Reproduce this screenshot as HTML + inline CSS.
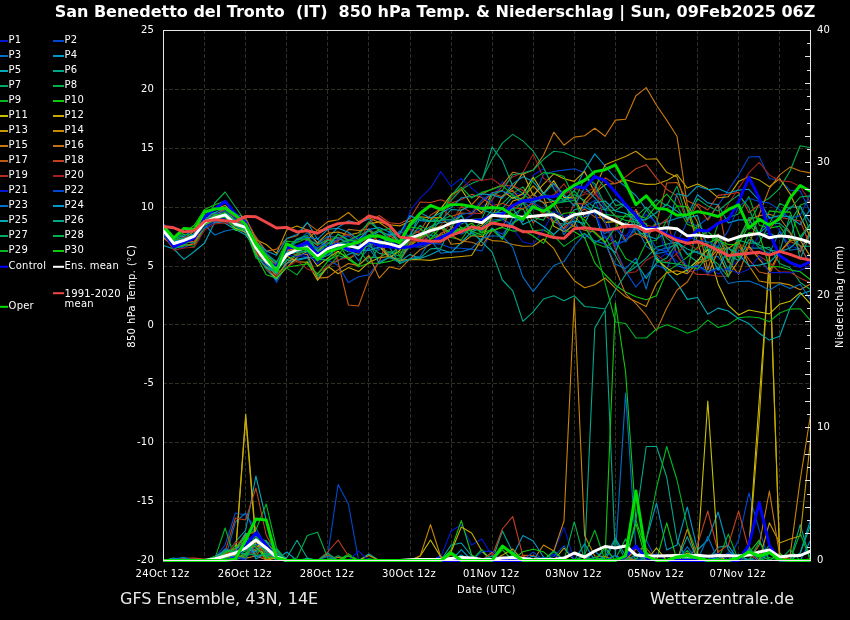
<!DOCTYPE html>
<html><head><meta charset="utf-8"><title>GFS Ensemble</title>
<style>html,body{margin:0;padding:0;background:#000;width:850px;height:620px;overflow:hidden}</style></head>
<body>
<svg width="850" height="620" viewBox="0 0 850 620" style="position:absolute;left:0;top:0">
<rect width="850" height="620" fill="#000"/>
<g stroke="#2e2e22" stroke-width="1" stroke-dasharray="4 2" fill="none" shape-rendering="crispEdges">
<path d="M204.6 30 V560"/>
<path d="M245.7 30 V560"/>
<path d="M286.7 30 V560"/>
<path d="M327.8 30 V560"/>
<path d="M368.9 30 V560"/>
<path d="M410.0 30 V560"/>
<path d="M451.1 30 V560"/>
<path d="M492.1 30 V560"/>
<path d="M533.2 30 V560"/>
<path d="M574.3 30 V560"/>
<path d="M615.4 30 V560"/>
<path d="M656.5 30 V560"/>
<path d="M697.5 30 V560"/>
<path d="M738.6 30 V560"/>
<path d="M779.7 30 V560"/>
<path d="M163 89.4 H810"/>
<path d="M163 148.3 H810"/>
<path d="M163 207.2 H810"/>
<path d="M163 266.1 H810"/>
<path d="M163 324.9 H810"/>
<path d="M163 383.8 H810"/>
<path d="M163 442.7 H810"/>
<path d="M163 501.6 H810"/>
</g>
<clipPath id="c"><rect x="163" y="30" width="648" height="532"/></clipPath>
<g clip-path="url(#c)" fill="none" stroke-linejoin="round">
<g stroke-width="1.1">
<path stroke="#0018d0" d="M163.5 560.5 L173.8 560.5 L184.0 560.5 L194.3 560.5 L204.6 560.5 L214.8 556.8 L225.1 557.3 L235.4 557.4 L245.7 560.0 L255.9 539.3 L266.2 558.4 L276.5 548.8 L286.7 560.5 L297.0 560.5 L307.3 560.5 L317.5 560.5 L327.8 560.5 L338.1 560.5 L348.4 560.5 L358.6 560.5 L368.9 560.5 L379.2 560.5 L389.4 560.5 L399.7 560.5 L410.0 560.5 L420.2 560.5 L430.5 560.5 L440.8 557.0 L451.1 531.0 L461.3 525.0 L471.6 545.0 L481.9 539.0 L492.1 556.0 L502.4 560.5 L512.7 559.8 L522.9 560.5 L533.2 560.5 L543.5 560.5 L553.8 551.6 L564.0 527.3 L574.3 560.5 L584.6 560.5 L594.8 560.5 L605.1 560.5 L615.4 560.5 L625.6 560.5 L635.9 556.3 L646.2 558.6 L656.5 553.7 L666.7 560.5 L677.0 560.5 L687.3 560.5 L697.5 560.5 L707.8 560.5 L718.1 559.9 L728.3 560.5 L738.6 560.5 L748.9 560.5 L759.2 560.5 L769.4 560.5 L779.7 560.5 L790.0 560.5 L800.2 560.5 L810.5 560.5"/>
<path stroke="#0048d0" d="M163.5 560.5 L173.8 560.5 L184.0 560.5 L194.3 560.5 L204.6 559.6 L214.8 557.5 L225.1 545.0 L235.4 513.0 L245.7 515.0 L255.9 528.0 L266.2 547.1 L276.5 558.9 L286.7 560.5 L297.0 560.5 L307.3 560.5 L317.5 560.5 L327.8 555.0 L338.1 484.6 L348.4 504.0 L358.6 560.5 L368.9 560.5 L379.2 560.5 L389.4 560.5 L399.7 560.5 L410.0 560.5 L420.2 560.5 L430.5 560.5 L440.8 555.9 L451.1 560.5 L461.3 560.5 L471.6 560.5 L481.9 560.5 L492.1 560.5 L502.4 560.5 L512.7 560.5 L522.9 560.5 L533.2 560.5 L543.5 560.5 L553.8 554.0 L564.0 560.5 L574.3 560.5 L584.6 560.5 L594.8 560.5 L605.1 549.7 L615.4 560.5 L625.6 560.5 L635.9 560.5 L646.2 539.9 L656.5 560.5 L666.7 560.5 L677.0 555.6 L687.3 560.5 L697.5 560.5 L707.8 560.5 L718.1 560.5 L728.3 560.5 L738.6 540.0 L748.9 493.0 L759.2 530.0 L769.4 560.5 L779.7 555.2 L790.0 560.5 L800.2 560.5 L810.5 560.5"/>
<path stroke="#0070c8" d="M163.5 560.5 L173.8 560.5 L184.0 560.5 L194.3 560.5 L204.6 560.5 L214.8 558.8 L225.1 559.1 L235.4 522.0 L245.7 513.0 L255.9 535.0 L266.2 557.2 L276.5 549.1 L286.7 560.5 L297.0 560.5 L307.3 560.5 L317.5 560.5 L327.8 560.5 L338.1 560.5 L348.4 560.5 L358.6 560.5 L368.9 560.5 L379.2 560.5 L389.4 560.5 L399.7 560.5 L410.0 560.5 L420.2 560.5 L430.5 560.5 L440.8 560.5 L451.1 560.5 L461.3 559.7 L471.6 560.5 L481.9 551.7 L492.1 560.5 L502.4 559.6 L512.7 560.5 L522.9 560.5 L533.2 560.5 L543.5 560.5 L553.8 560.5 L564.0 560.5 L574.3 560.5 L584.6 560.5 L594.8 560.5 L605.1 560.5 L615.4 555.0 L625.6 393.0 L635.9 548.0 L646.2 560.5 L656.5 560.5 L666.7 560.5 L677.0 560.5 L687.3 560.5 L697.5 560.5 L707.8 560.5 L718.1 555.3 L728.3 560.5 L738.6 560.5 L748.9 559.0 L759.2 560.5 L769.4 560.5 L779.7 560.5 L790.0 560.5 L800.2 560.5 L810.5 560.5"/>
<path stroke="#0098c8" d="M163.5 560.5 L173.8 560.5 L184.0 560.5 L194.3 560.5 L204.6 560.5 L214.8 560.1 L225.1 548.7 L235.4 552.8 L245.7 542.2 L255.9 544.6 L266.2 556.0 L276.5 559.7 L286.7 552.0 L297.0 560.5 L307.3 560.5 L317.5 560.5 L327.8 560.5 L338.1 560.5 L348.4 560.5 L358.6 560.5 L368.9 560.5 L379.2 560.5 L389.4 560.5 L399.7 560.5 L410.0 560.5 L420.2 560.5 L430.5 560.5 L440.8 560.5 L451.1 557.5 L461.3 560.5 L471.6 560.5 L481.9 560.5 L492.1 560.5 L502.4 560.5 L512.7 556.0 L522.9 535.5 L533.2 541.0 L543.5 557.0 L553.8 560.5 L564.0 560.5 L574.3 560.5 L584.6 543.9 L594.8 560.5 L605.1 557.0 L615.4 538.3 L625.6 555.8 L635.9 560.5 L646.2 540.0 L656.5 503.0 L666.7 550.0 L677.0 545.0 L687.3 507.0 L697.5 550.0 L707.8 540.0 L718.1 512.0 L728.3 550.0 L738.6 560.5 L748.9 560.5 L759.2 560.5 L769.4 553.0 L779.7 560.5 L790.0 560.5 L800.2 553.0 L810.5 520.0"/>
<path stroke="#00a8b8" d="M163.5 560.5 L173.8 558.0 L184.0 560.5 L194.3 558.7 L204.6 560.5 L214.8 560.2 L225.1 557.3 L235.4 542.0 L245.7 530.0 L255.9 476.0 L266.2 520.0 L276.5 555.1 L286.7 560.5 L297.0 560.5 L307.3 560.5 L317.5 560.5 L327.8 560.5 L338.1 560.5 L348.4 560.5 L358.6 560.5 L368.9 554.0 L379.2 560.5 L389.4 560.5 L399.7 560.5 L410.0 560.5 L420.2 560.5 L430.5 560.5 L440.8 560.5 L451.1 545.0 L461.3 543.0 L471.6 556.0 L481.9 560.5 L492.1 560.5 L502.4 560.5 L512.7 560.5 L522.9 560.5 L533.2 560.5 L543.5 560.5 L553.8 560.5 L564.0 560.5 L574.3 560.5 L584.6 560.5 L594.8 560.5 L605.1 560.5 L615.4 560.5 L625.6 560.5 L635.9 558.8 L646.2 560.5 L656.5 560.5 L666.7 560.5 L677.0 560.5 L687.3 560.5 L697.5 560.5 L707.8 560.1 L718.1 547.2 L728.3 545.6 L738.6 560.5 L748.9 560.5 L759.2 560.5 L769.4 560.5 L779.7 560.5 L790.0 560.5 L800.2 560.5 L810.5 560.5"/>
<path stroke="#00a888" d="M163.5 560.5 L173.8 560.5 L184.0 560.5 L194.3 560.5 L204.6 560.5 L214.8 556.6 L225.1 551.4 L235.4 559.9 L245.7 555.5 L255.9 548.9 L266.2 546.3 L276.5 553.7 L286.7 558.0 L297.0 540.3 L307.3 558.0 L317.5 560.5 L327.8 560.5 L338.1 560.5 L348.4 560.5 L358.6 560.5 L368.9 560.5 L379.2 560.5 L389.4 560.5 L399.7 560.5 L410.0 560.5 L420.2 560.5 L430.5 560.5 L440.8 560.5 L451.1 560.5 L461.3 560.5 L471.6 560.5 L481.9 560.5 L492.1 560.5 L502.4 531.0 L512.7 552.0 L522.9 560.5 L533.2 560.5 L543.5 560.5 L553.8 550.7 L564.0 560.5 L574.3 560.5 L584.6 556.0 L594.8 328.0 L605.1 310.0 L615.4 556.0 L625.6 560.5 L635.9 520.0 L646.2 446.5 L656.5 446.5 L666.7 477.0 L677.0 540.0 L687.3 560.5 L697.5 560.5 L707.8 560.5 L718.1 560.5 L728.3 560.5 L738.6 560.5 L748.9 560.5 L759.2 554.4 L769.4 560.5 L779.7 560.5 L790.0 560.5 L800.2 524.6 L810.5 560.5"/>
<path stroke="#00a860" d="M163.5 560.5 L173.8 560.5 L184.0 560.5 L194.3 560.5 L204.6 560.5 L214.8 557.7 L225.1 557.4 L235.4 555.8 L245.7 550.2 L255.9 545.8 L266.2 547.0 L276.5 559.6 L286.7 560.5 L297.0 560.5 L307.3 560.5 L317.5 560.5 L327.8 560.5 L338.1 555.7 L348.4 560.5 L358.6 560.5 L368.9 560.5 L379.2 560.5 L389.4 560.5 L399.7 560.5 L410.0 560.5 L420.2 560.5 L430.5 560.5 L440.8 560.5 L451.1 560.5 L461.3 560.5 L471.6 560.5 L481.9 560.5 L492.1 560.5 L502.4 560.5 L512.7 560.5 L522.9 560.5 L533.2 560.5 L543.5 560.5 L553.8 560.5 L564.0 560.5 L574.3 560.5 L584.6 560.5 L594.8 557.4 L605.1 560.5 L615.4 540.1 L625.6 560.5 L635.9 560.5 L646.2 560.5 L656.5 560.5 L666.7 560.5 L677.0 560.5 L687.3 560.5 L697.5 560.5 L707.8 560.5 L718.1 560.5 L728.3 560.5 L738.6 560.5 L748.9 560.5 L759.2 560.5 L769.4 544.8 L779.7 560.5 L790.0 560.5 L800.2 560.5 L810.5 560.5"/>
<path stroke="#00b048" d="M163.5 560.5 L173.8 560.5 L184.0 560.5 L194.3 560.5 L204.6 560.5 L214.8 556.6 L225.1 558.1 L235.4 545.2 L245.7 552.1 L255.9 553.3 L266.2 544.1 L276.5 553.3 L286.7 560.5 L297.0 558.0 L307.3 535.5 L317.5 532.3 L327.8 558.0 L338.1 560.5 L348.4 560.5 L358.6 560.5 L368.9 558.8 L379.2 560.5 L389.4 560.5 L399.7 560.5 L410.0 560.5 L420.2 560.5 L430.5 560.5 L440.8 560.5 L451.1 557.7 L461.3 560.5 L471.6 560.5 L481.9 560.5 L492.1 559.1 L502.4 560.5 L512.7 560.5 L522.9 560.5 L533.2 560.5 L543.5 560.5 L553.8 560.5 L564.0 560.5 L574.3 560.5 L584.6 560.5 L594.8 559.3 L605.1 560.5 L615.4 559.2 L625.6 538.8 L635.9 560.5 L646.2 560.5 L656.5 560.5 L666.7 560.5 L677.0 560.5 L687.3 554.3 L697.5 560.5 L707.8 560.5 L718.1 560.5 L728.3 560.5 L738.6 560.5 L748.9 552.3 L759.2 560.5 L769.4 560.5 L779.7 560.5 L790.0 560.5 L800.2 560.5 L810.5 560.5"/>
<path stroke="#00b820" d="M163.5 560.5 L173.8 560.5 L184.0 558.1 L194.3 560.4 L204.6 560.5 L214.8 558.6 L225.1 528.0 L235.4 560.2 L245.7 534.4 L255.9 530.0 L266.2 504.0 L276.5 548.0 L286.7 560.5 L297.0 560.5 L307.3 560.5 L317.5 560.5 L327.8 560.5 L338.1 560.5 L348.4 555.4 L358.6 560.5 L368.9 560.5 L379.2 560.5 L389.4 560.5 L399.7 560.5 L410.0 560.5 L420.2 560.5 L430.5 560.5 L440.8 560.5 L451.1 560.5 L461.3 560.5 L471.6 560.5 L481.9 560.5 L492.1 560.5 L502.4 560.5 L512.7 554.9 L522.9 560.5 L533.2 560.5 L543.5 560.5 L553.8 560.5 L564.0 560.5 L574.3 560.5 L584.6 560.5 L594.8 560.5 L605.1 560.5 L615.4 560.5 L625.6 560.5 L635.9 560.5 L646.2 540.0 L656.5 488.0 L666.7 446.5 L677.0 480.0 L687.3 527.0 L697.5 555.0 L707.8 560.5 L718.1 560.5 L728.3 534.1 L738.6 560.5 L748.9 549.3 L759.2 560.5 L769.4 560.5 L779.7 560.5 L790.0 560.5 L800.2 560.5 L810.5 560.5"/>
<path stroke="#10c810" d="M163.5 560.5 L173.8 560.5 L184.0 560.5 L194.3 560.5 L204.6 560.5 L214.8 557.4 L225.1 551.8 L235.4 554.2 L245.7 559.1 L255.9 539.0 L266.2 558.7 L276.5 549.4 L286.7 560.5 L297.0 560.5 L307.3 560.5 L317.5 560.5 L327.8 560.5 L338.1 560.5 L348.4 553.9 L358.6 560.5 L368.9 560.5 L379.2 560.5 L389.4 560.5 L399.7 560.5 L410.0 560.5 L420.2 560.5 L430.5 560.5 L440.8 560.5 L451.1 550.0 L461.3 520.6 L471.6 555.0 L481.9 560.5 L492.1 560.5 L502.4 549.6 L512.7 560.5 L522.9 560.5 L533.2 560.5 L543.5 560.5 L553.8 560.5 L564.0 560.5 L574.3 560.5 L584.6 560.5 L594.8 560.5 L605.1 557.0 L615.4 303.0 L625.6 372.0 L635.9 520.0 L646.2 552.0 L656.5 560.5 L666.7 522.8 L677.0 560.5 L687.3 560.5 L697.5 560.5 L707.8 560.5 L718.1 560.5 L728.3 560.5 L738.6 560.5 L748.9 552.8 L759.2 540.2 L769.4 560.5 L779.7 553.3 L790.0 560.5 L800.2 560.5 L810.5 560.5"/>
<path stroke="#c8c000" d="M163.5 560.5 L173.8 560.5 L184.0 560.5 L194.3 560.5 L204.6 560.5 L214.8 557.6 L225.1 550.3 L235.4 555.0 L245.7 414.0 L255.9 540.0 L266.2 560.5 L276.5 557.7 L286.7 560.5 L297.0 560.5 L307.3 560.5 L317.5 560.1 L327.8 560.5 L338.1 560.5 L348.4 560.5 L358.6 560.5 L368.9 560.5 L379.2 560.5 L389.4 560.5 L399.7 560.5 L410.0 560.5 L420.2 556.0 L430.5 540.0 L440.8 557.0 L451.1 560.5 L461.3 560.5 L471.6 560.5 L481.9 560.5 L492.1 552.4 L502.4 560.5 L512.7 560.5 L522.9 560.5 L533.2 560.5 L543.5 560.5 L553.8 560.5 L564.0 548.0 L574.3 560.5 L584.6 560.5 L594.8 560.5 L605.1 560.5 L615.4 560.5 L625.6 560.5 L635.9 547.0 L646.2 560.5 L656.5 548.0 L666.7 560.5 L677.0 560.5 L687.3 553.0 L697.5 556.0 L707.8 401.0 L718.1 556.0 L728.3 560.5 L738.6 560.5 L748.9 548.0 L759.2 400.0 L769.4 262.0 L779.7 556.0 L790.0 560.5 L800.2 559.6 L810.5 560.5"/>
<path stroke="#c8a800" d="M163.5 560.5 L173.8 560.5 L184.0 560.5 L194.3 560.5 L204.6 560.5 L214.8 560.4 L225.1 556.1 L235.4 556.0 L245.7 418.0 L255.9 545.0 L266.2 560.5 L276.5 552.8 L286.7 560.5 L297.0 560.5 L307.3 560.5 L317.5 560.5 L327.8 560.5 L338.1 560.5 L348.4 560.5 L358.6 560.5 L368.9 560.5 L379.2 560.5 L389.4 560.5 L399.7 560.5 L410.0 560.5 L420.2 560.5 L430.5 560.5 L440.8 560.5 L451.1 552.0 L461.3 527.0 L471.6 533.0 L481.9 551.0 L492.1 560.5 L502.4 555.1 L512.7 549.0 L522.9 560.5 L533.2 560.5 L543.5 560.5 L553.8 560.5 L564.0 560.5 L574.3 560.5 L584.6 560.5 L594.8 560.5 L605.1 560.5 L615.4 560.5 L625.6 559.5 L635.9 560.5 L646.2 560.5 L656.5 560.5 L666.7 560.5 L677.0 554.1 L687.3 560.5 L697.5 560.5 L707.8 560.5 L718.1 560.5 L728.3 560.5 L738.6 560.5 L748.9 552.0 L759.2 420.0 L769.4 255.0 L779.7 556.0 L790.0 560.5 L800.2 560.5 L810.5 560.5"/>
<path stroke="#c89800" d="M163.5 560.5 L173.8 560.5 L184.0 560.5 L194.3 560.5 L204.6 560.5 L214.8 558.5 L225.1 552.5 L235.4 557.6 L245.7 533.7 L255.9 532.5 L266.2 549.3 L276.5 551.0 L286.7 560.5 L297.0 560.5 L307.3 560.5 L317.5 560.5 L327.8 560.5 L338.1 560.5 L348.4 560.5 L358.6 560.5 L368.9 555.5 L379.2 560.5 L389.4 560.5 L399.7 560.5 L410.0 560.5 L420.2 560.5 L430.5 560.5 L440.8 560.5 L451.1 560.5 L461.3 560.5 L471.6 560.5 L481.9 560.5 L492.1 560.5 L502.4 560.5 L512.7 560.5 L522.9 560.5 L533.2 560.5 L543.5 560.5 L553.8 560.5 L564.0 560.5 L574.3 560.5 L584.6 560.5 L594.8 560.5 L605.1 560.4 L615.4 560.5 L625.6 560.5 L635.9 560.5 L646.2 560.5 L656.5 560.5 L666.7 560.5 L677.0 560.5 L687.3 560.5 L697.5 560.5 L707.8 560.5 L718.1 560.5 L728.3 554.0 L738.6 560.5 L748.9 560.5 L759.2 560.5 L769.4 522.7 L779.7 543.0 L790.0 539.0 L800.2 536.0 L810.5 440.0"/>
<path stroke="#c88800" d="M163.5 560.5 L173.8 560.5 L184.0 560.5 L194.3 560.5 L204.6 560.5 L214.8 558.8 L225.1 556.7 L235.4 557.1 L245.7 554.4 L255.9 545.3 L266.2 552.3 L276.5 551.8 L286.7 560.5 L297.0 560.5 L307.3 560.5 L317.5 560.5 L327.8 560.5 L338.1 560.5 L348.4 560.5 L358.6 560.5 L368.9 560.5 L379.2 560.5 L389.4 560.5 L399.7 560.5 L410.0 560.5 L420.2 556.0 L430.5 524.6 L440.8 557.0 L451.1 560.5 L461.3 560.5 L471.6 560.5 L481.9 560.5 L492.1 560.5 L502.4 560.5 L512.7 560.5 L522.9 560.5 L533.2 560.5 L543.5 545.0 L553.8 551.0 L564.0 521.0 L574.3 298.0 L584.6 535.6 L594.8 556.0 L605.1 556.5 L615.4 560.5 L625.6 560.5 L635.9 560.5 L646.2 560.5 L656.5 560.5 L666.7 560.5 L677.0 560.5 L687.3 529.1 L697.5 560.5 L707.8 560.5 L718.1 560.5 L728.3 560.5 L738.6 560.5 L748.9 560.5 L759.2 560.5 L769.4 560.5 L779.7 560.5 L790.0 556.0 L800.2 480.0 L810.5 415.0"/>
<path stroke="#c87810" d="M163.5 560.5 L173.8 560.5 L184.0 560.5 L194.3 560.5 L204.6 560.5 L214.8 557.1 L225.1 551.0 L235.4 548.7 L245.7 541.5 L255.9 551.0 L266.2 541.6 L276.5 553.9 L286.7 560.5 L297.0 560.5 L307.3 560.5 L317.5 560.5 L327.8 560.5 L338.1 557.3 L348.4 560.5 L358.6 560.5 L368.9 560.5 L379.2 560.5 L389.4 560.5 L399.7 560.5 L410.0 560.5 L420.2 560.5 L430.5 560.5 L440.8 560.5 L451.1 560.5 L461.3 560.5 L471.6 560.5 L481.9 560.5 L492.1 560.5 L502.4 560.5 L512.7 560.5 L522.9 560.5 L533.2 560.5 L543.5 560.5 L553.8 560.5 L564.0 560.5 L574.3 560.5 L584.6 560.5 L594.8 560.5 L605.1 560.5 L615.4 560.5 L625.6 560.5 L635.9 560.5 L646.2 560.5 L656.5 559.0 L666.7 560.5 L677.0 560.5 L687.3 560.5 L697.5 560.5 L707.8 560.5 L718.1 552.7 L728.3 560.5 L738.6 560.5 L748.9 560.5 L759.2 545.0 L769.4 491.0 L779.7 556.0 L790.0 560.5 L800.2 560.5 L810.5 560.5"/>
<path stroke="#c07018" d="M163.5 560.5 L173.8 560.5 L184.0 560.5 L194.3 560.5 L204.6 560.5 L214.8 559.8 L225.1 559.0 L235.4 554.5 L245.7 558.1 L255.9 556.0 L266.2 559.7 L276.5 556.6 L286.7 560.5 L297.0 560.5 L307.3 560.5 L317.5 560.5 L327.8 560.5 L338.1 560.5 L348.4 560.5 L358.6 560.5 L368.9 560.5 L379.2 560.5 L389.4 560.5 L399.7 560.5 L410.0 560.5 L420.2 560.5 L430.5 560.5 L440.8 560.5 L451.1 560.5 L461.3 560.5 L471.6 560.5 L481.9 560.5 L492.1 552.4 L502.4 560.5 L512.7 560.5 L522.9 560.5 L533.2 560.5 L543.5 560.5 L553.8 560.5 L564.0 560.5 L574.3 560.5 L584.6 560.5 L594.8 560.5 L605.1 560.5 L615.4 560.5 L625.6 557.0 L635.9 560.5 L646.2 560.5 L656.5 560.5 L666.7 560.5 L677.0 560.5 L687.3 560.5 L697.5 560.5 L707.8 560.5 L718.1 560.5 L728.3 560.5 L738.6 560.5 L748.9 554.1 L759.2 560.5 L769.4 560.5 L779.7 560.5 L790.0 560.5 L800.2 560.5 L810.5 560.5"/>
<path stroke="#c05810" d="M163.5 560.5 L173.8 560.5 L184.0 560.5 L194.3 560.5 L204.6 560.5 L214.8 559.2 L225.1 554.7 L235.4 548.9 L245.7 533.1 L255.9 556.0 L266.2 542.6 L276.5 558.2 L286.7 560.5 L297.0 560.5 L307.3 560.5 L317.5 560.5 L327.8 554.7 L338.1 560.5 L348.4 560.5 L358.6 560.5 L368.9 560.5 L379.2 560.5 L389.4 560.5 L399.7 560.5 L410.0 560.5 L420.2 560.5 L430.5 560.5 L440.8 560.5 L451.1 560.5 L461.3 560.5 L471.6 560.5 L481.9 560.5 L492.1 560.5 L502.4 560.5 L512.7 560.5 L522.9 555.4 L533.2 555.5 L543.5 560.5 L553.8 560.5 L564.0 560.5 L574.3 552.3 L584.6 558.3 L594.8 560.5 L605.1 560.5 L615.4 560.5 L625.6 560.5 L635.9 549.3 L646.2 548.2 L656.5 560.5 L666.7 560.5 L677.0 560.5 L687.3 560.5 L697.5 560.5 L707.8 560.5 L718.1 560.5 L728.3 560.5 L738.6 560.5 L748.9 560.5 L759.2 560.5 L769.4 560.5 L779.7 560.5 L790.0 560.5 L800.2 560.5 L810.5 560.5"/>
<path stroke="#c04020" d="M163.5 560.5 L173.8 560.5 L184.0 558.2 L194.3 558.1 L204.6 559.0 L214.8 560.0 L225.1 551.5 L235.4 518.0 L245.7 520.0 L255.9 488.0 L266.2 535.0 L276.5 554.0 L286.7 560.5 L297.0 560.5 L307.3 560.5 L317.5 560.5 L327.8 552.0 L338.1 540.0 L348.4 556.0 L358.6 560.5 L368.9 560.5 L379.2 560.5 L389.4 560.5 L399.7 560.5 L410.0 560.5 L420.2 560.5 L430.5 560.5 L440.8 560.5 L451.1 554.9 L461.3 560.5 L471.6 560.5 L481.9 560.5 L492.1 556.0 L502.4 529.0 L512.7 516.5 L522.9 556.0 L533.2 560.5 L543.5 560.5 L553.8 560.5 L564.0 560.5 L574.3 560.5 L584.6 560.5 L594.8 560.5 L605.1 560.5 L615.4 560.5 L625.6 560.5 L635.9 560.5 L646.2 560.5 L656.5 560.5 L666.7 560.5 L677.0 560.5 L687.3 560.5 L697.5 545.0 L707.8 511.0 L718.1 552.0 L728.3 545.0 L738.6 511.0 L748.9 550.0 L759.2 560.5 L769.4 560.5 L779.7 560.5 L790.0 560.5 L800.2 560.5 L810.5 560.5"/>
<path stroke="#b03020" d="M163.5 560.5 L173.8 560.5 L184.0 560.5 L194.3 560.5 L204.6 560.5 L214.8 559.9 L225.1 552.3 L235.4 549.4 L245.7 549.2 L255.9 555.8 L266.2 557.8 L276.5 554.9 L286.7 560.5 L297.0 560.5 L307.3 560.5 L317.5 560.5 L327.8 560.5 L338.1 560.5 L348.4 560.5 L358.6 560.5 L368.9 560.5 L379.2 560.5 L389.4 560.5 L399.7 560.5 L410.0 560.5 L420.2 560.5 L430.5 560.5 L440.8 560.5 L451.1 560.5 L461.3 560.5 L471.6 560.5 L481.9 560.5 L492.1 560.5 L502.4 560.5 L512.7 560.5 L522.9 558.0 L533.2 560.5 L543.5 560.5 L553.8 560.5 L564.0 560.5 L574.3 560.5 L584.6 560.5 L594.8 560.5 L605.1 560.5 L615.4 560.5 L625.6 560.5 L635.9 560.5 L646.2 560.5 L656.5 560.5 L666.7 560.5 L677.0 560.5 L687.3 560.5 L697.5 560.5 L707.8 560.5 L718.1 560.4 L728.3 560.5 L738.6 560.5 L748.9 553.8 L759.2 560.5 L769.4 560.5 L779.7 560.5 L790.0 560.5 L800.2 560.5 L810.5 558.5"/>
<path stroke="#a02020" d="M163.5 560.5 L173.8 560.5 L184.0 560.5 L194.3 560.5 L204.6 560.5 L214.8 560.1 L225.1 557.1 L235.4 542.6 L245.7 541.1 L255.9 546.1 L266.2 553.5 L276.5 552.0 L286.7 560.5 L297.0 560.5 L307.3 560.5 L317.5 560.5 L327.8 560.5 L338.1 560.5 L348.4 560.5 L358.6 560.5 L368.9 560.5 L379.2 560.5 L389.4 560.5 L399.7 560.5 L410.0 560.5 L420.2 560.5 L430.5 560.5 L440.8 560.5 L451.1 560.5 L461.3 560.5 L471.6 560.5 L481.9 560.5 L492.1 553.3 L502.4 560.5 L512.7 560.5 L522.9 560.5 L533.2 560.5 L543.5 560.5 L553.8 560.5 L564.0 560.5 L574.3 560.3 L584.6 560.5 L594.8 560.5 L605.1 560.5 L615.4 560.5 L625.6 560.5 L635.9 560.5 L646.2 560.5 L656.5 560.5 L666.7 560.5 L677.0 560.5 L687.3 560.5 L697.5 560.5 L707.8 560.5 L718.1 560.5 L728.3 560.5 L738.6 560.5 L748.9 560.5 L759.2 560.5 L769.4 560.5 L779.7 560.5 L790.0 558.2 L800.2 560.5 L810.5 560.5"/>
<path stroke="#0018d0" d="M163.5 560.5 L173.8 560.5 L184.0 560.5 L194.3 560.5 L204.6 560.5 L214.8 560.5 L225.1 549.8 L235.4 553.4 L245.7 538.8 L255.9 537.1 L266.2 548.7 L276.5 555.3 L286.7 560.5 L297.0 560.5 L307.3 560.5 L317.5 560.5 L327.8 560.5 L338.1 560.5 L348.4 560.5 L358.6 551.2 L368.9 560.5 L379.2 560.5 L389.4 560.5 L399.7 560.5 L410.0 560.5 L420.2 560.5 L430.5 560.5 L440.8 560.5 L451.1 560.5 L461.3 560.5 L471.6 560.5 L481.9 551.4 L492.1 551.2 L502.4 560.5 L512.7 560.5 L522.9 560.5 L533.2 560.5 L543.5 560.5 L553.8 554.3 L564.0 560.5 L574.3 560.5 L584.6 560.5 L594.8 560.5 L605.1 560.5 L615.4 560.5 L625.6 560.5 L635.9 560.5 L646.2 560.5 L656.5 559.8 L666.7 560.5 L677.0 560.5 L687.3 560.5 L697.5 560.5 L707.8 560.5 L718.1 553.3 L728.3 560.5 L738.6 560.5 L748.9 550.3 L759.2 560.5 L769.4 560.5 L779.7 560.5 L790.0 560.5 L800.2 560.5 L810.5 560.5"/>
<path stroke="#0048d0" d="M163.5 560.5 L173.8 560.5 L184.0 560.5 L194.3 560.5 L204.6 560.5 L214.8 557.7 L225.1 555.3 L235.4 557.4 L245.7 558.5 L255.9 545.3 L266.2 540.7 L276.5 549.5 L286.7 560.5 L297.0 560.5 L307.3 560.5 L317.5 560.5 L327.8 560.5 L338.1 560.5 L348.4 560.5 L358.6 560.5 L368.9 560.5 L379.2 560.5 L389.4 560.5 L399.7 560.5 L410.0 560.5 L420.2 560.5 L430.5 560.5 L440.8 560.5 L451.1 560.5 L461.3 560.5 L471.6 560.5 L481.9 560.5 L492.1 560.5 L502.4 560.5 L512.7 560.5 L522.9 560.5 L533.2 551.9 L543.5 560.5 L553.8 556.6 L564.0 545.9 L574.3 560.5 L584.6 560.5 L594.8 560.5 L605.1 560.5 L615.4 560.5 L625.6 560.5 L635.9 560.5 L646.2 556.8 L656.5 560.5 L666.7 560.5 L677.0 560.5 L687.3 560.5 L697.5 560.5 L707.8 555.2 L718.1 559.4 L728.3 552.8 L738.6 560.5 L748.9 560.5 L759.2 560.5 L769.4 560.5 L779.7 560.5 L790.0 560.5 L800.2 560.5 L810.5 560.5"/>
<path stroke="#0070c8" d="M163.5 560.5 L173.8 558.7 L184.0 557.6 L194.3 560.5 L204.6 560.5 L214.8 558.4 L225.1 556.8 L235.4 556.4 L245.7 540.1 L255.9 557.0 L266.2 553.4 L276.5 553.8 L286.7 560.5 L297.0 560.5 L307.3 560.5 L317.5 560.5 L327.8 556.2 L338.1 560.5 L348.4 560.5 L358.6 560.5 L368.9 560.5 L379.2 560.5 L389.4 560.5 L399.7 560.5 L410.0 560.5 L420.2 560.5 L430.5 560.5 L440.8 560.5 L451.1 560.5 L461.3 560.5 L471.6 560.5 L481.9 560.5 L492.1 560.5 L502.4 560.5 L512.7 560.5 L522.9 560.5 L533.2 560.5 L543.5 557.4 L553.8 560.5 L564.0 560.5 L574.3 560.5 L584.6 560.5 L594.8 560.5 L605.1 560.5 L615.4 555.5 L625.6 560.5 L635.9 560.5 L646.2 560.5 L656.5 560.5 L666.7 560.5 L677.0 560.5 L687.3 546.8 L697.5 560.5 L707.8 536.5 L718.1 560.5 L728.3 560.5 L738.6 560.5 L748.9 549.4 L759.2 560.5 L769.4 560.5 L779.7 560.5 L790.0 560.5 L800.2 560.5 L810.5 560.5"/>
<path stroke="#0098c8" d="M163.5 560.5 L173.8 560.5 L184.0 560.5 L194.3 560.5 L204.6 560.5 L214.8 557.1 L225.1 550.1 L235.4 551.7 L245.7 548.7 L255.9 551.7 L266.2 541.0 L276.5 558.3 L286.7 560.5 L297.0 560.5 L307.3 560.5 L317.5 560.5 L327.8 560.5 L338.1 560.5 L348.4 560.5 L358.6 560.5 L368.9 560.5 L379.2 560.5 L389.4 560.5 L399.7 560.5 L410.0 560.5 L420.2 560.5 L430.5 560.5 L440.8 560.5 L451.1 560.5 L461.3 549.7 L471.6 560.5 L481.9 560.5 L492.1 560.5 L502.4 560.5 L512.7 555.8 L522.9 560.5 L533.2 556.0 L543.5 560.5 L553.8 560.5 L564.0 560.5 L574.3 560.5 L584.6 560.5 L594.8 551.1 L605.1 560.5 L615.4 560.5 L625.6 560.5 L635.9 560.5 L646.2 560.5 L656.5 560.5 L666.7 560.5 L677.0 560.5 L687.3 557.9 L697.5 560.5 L707.8 555.2 L718.1 560.5 L728.3 560.5 L738.6 554.8 L748.9 560.5 L759.2 560.5 L769.4 560.5 L779.7 560.5 L790.0 560.5 L800.2 560.5 L810.5 540.6"/>
<path stroke="#00a8b8" d="M163.5 560.5 L173.8 560.5 L184.0 560.5 L194.3 560.5 L204.6 560.5 L214.8 559.4 L225.1 551.2 L235.4 550.9 L245.7 532.9 L255.9 559.0 L266.2 552.9 L276.5 557.8 L286.7 560.5 L297.0 560.5 L307.3 560.5 L317.5 560.5 L327.8 560.5 L338.1 560.5 L348.4 560.5 L358.6 560.5 L368.9 560.5 L379.2 560.5 L389.4 560.5 L399.7 560.5 L410.0 560.5 L420.2 560.5 L430.5 560.5 L440.8 560.5 L451.1 560.5 L461.3 555.0 L471.6 560.5 L481.9 559.4 L492.1 556.1 L502.4 560.5 L512.7 560.5 L522.9 560.5 L533.2 560.5 L543.5 560.5 L553.8 560.5 L564.0 560.5 L574.3 560.5 L584.6 560.5 L594.8 560.5 L605.1 560.5 L615.4 560.5 L625.6 560.5 L635.9 560.5 L646.2 560.5 L656.5 560.5 L666.7 560.5 L677.0 560.5 L687.3 536.6 L697.5 560.5 L707.8 560.5 L718.1 560.5 L728.3 560.5 L738.6 555.1 L748.9 560.5 L759.2 560.5 L769.4 560.5 L779.7 560.5 L790.0 560.5 L800.2 560.5 L810.5 560.5"/>
<path stroke="#00a888" d="M163.5 560.5 L173.8 560.5 L184.0 560.5 L194.3 560.5 L204.6 560.5 L214.8 557.8 L225.1 555.1 L235.4 552.4 L245.7 554.0 L255.9 538.4 L266.2 551.4 L276.5 550.5 L286.7 560.5 L297.0 560.5 L307.3 558.3 L317.5 560.5 L327.8 560.5 L338.1 560.5 L348.4 560.5 L358.6 560.5 L368.9 560.5 L379.2 560.5 L389.4 560.5 L399.7 560.5 L410.0 560.5 L420.2 560.5 L430.5 560.5 L440.8 560.5 L451.1 560.5 L461.3 560.5 L471.6 560.5 L481.9 560.5 L492.1 560.5 L502.4 560.5 L512.7 560.5 L522.9 560.5 L533.2 560.5 L543.5 560.5 L553.8 560.5 L564.0 560.5 L574.3 560.5 L584.6 556.2 L594.8 560.5 L605.1 560.5 L615.4 560.5 L625.6 560.5 L635.9 560.5 L646.2 560.5 L656.5 560.5 L666.7 560.5 L677.0 560.5 L687.3 560.5 L697.5 560.5 L707.8 560.5 L718.1 560.5 L728.3 560.5 L738.6 555.6 L748.9 560.5 L759.2 560.5 L769.4 560.5 L779.7 560.5 L790.0 560.5 L800.2 553.3 L810.5 524.9"/>
<path stroke="#00a860" d="M163.5 560.5 L173.8 560.5 L184.0 560.5 L194.3 560.5 L204.6 560.5 L214.8 560.2 L225.1 550.6 L235.4 551.4 L245.7 553.8 L255.9 555.4 L266.2 554.2 L276.5 552.9 L286.7 560.5 L297.0 560.5 L307.3 560.5 L317.5 560.5 L327.8 553.3 L338.1 560.5 L348.4 560.5 L358.6 560.5 L368.9 560.5 L379.2 560.5 L389.4 560.5 L399.7 560.5 L410.0 560.5 L420.2 560.5 L430.5 560.5 L440.8 560.5 L451.1 558.0 L461.3 560.5 L471.6 560.5 L481.9 560.5 L492.1 560.5 L502.4 559.8 L512.7 560.5 L522.9 560.5 L533.2 560.5 L543.5 560.5 L553.8 560.5 L564.0 560.5 L574.3 560.5 L584.6 560.5 L594.8 560.5 L605.1 560.5 L615.4 560.5 L625.6 560.5 L635.9 560.5 L646.2 560.5 L656.5 560.5 L666.7 560.5 L677.0 560.5 L687.3 558.1 L697.5 560.5 L707.8 560.5 L718.1 560.5 L728.3 560.5 L738.6 560.5 L748.9 560.5 L759.2 541.7 L769.4 560.5 L779.7 560.5 L790.0 560.5 L800.2 560.5 L810.5 560.5"/>
<path stroke="#00b048" d="M163.5 560.5 L173.8 560.5 L184.0 560.5 L194.3 560.5 L204.6 560.5 L214.8 559.9 L225.1 551.3 L235.4 552.0 L245.7 555.3 L255.9 533.3 L266.2 556.3 L276.5 549.1 L286.7 560.5 L297.0 560.5 L307.3 560.5 L317.5 560.5 L327.8 560.5 L338.1 560.5 L348.4 560.5 L358.6 560.5 L368.9 560.5 L379.2 560.5 L389.4 560.5 L399.7 560.5 L410.0 560.5 L420.2 560.5 L430.5 560.5 L440.8 560.5 L451.1 560.5 L461.3 560.5 L471.6 560.5 L481.9 560.5 L492.1 560.5 L502.4 560.5 L512.7 560.5 L522.9 560.5 L533.2 560.5 L543.5 560.5 L553.8 560.5 L564.0 560.5 L574.3 521.7 L584.6 560.5 L594.8 560.5 L605.1 560.5 L615.4 560.5 L625.6 560.5 L635.9 554.7 L646.2 560.5 L656.5 560.5 L666.7 560.5 L677.0 560.5 L687.3 550.4 L697.5 560.5 L707.8 560.5 L718.1 560.5 L728.3 560.5 L738.6 560.5 L748.9 546.8 L759.2 560.5 L769.4 560.5 L779.7 560.5 L790.0 549.6 L800.2 560.5 L810.5 560.5"/>
<path stroke="#00b820" d="M163.5 560.5 L173.8 560.5 L184.0 560.5 L194.3 560.5 L204.6 560.5 L214.8 556.7 L225.1 558.4 L235.4 553.6 L245.7 557.6 L255.9 537.9 L266.2 540.9 L276.5 558.6 L286.7 560.5 L297.0 560.5 L307.3 560.5 L317.5 560.5 L327.8 560.5 L338.1 560.5 L348.4 560.5 L358.6 560.5 L368.9 560.5 L379.2 560.5 L389.4 560.5 L399.7 560.5 L410.0 560.5 L420.2 560.5 L430.5 560.5 L440.8 560.5 L451.1 560.5 L461.3 560.5 L471.6 560.5 L481.9 549.5 L492.1 560.5 L502.4 560.5 L512.7 560.5 L522.9 560.5 L533.2 560.5 L543.5 560.5 L553.8 551.5 L564.0 560.5 L574.3 560.5 L584.6 554.9 L594.8 530.2 L605.1 560.5 L615.4 560.5 L625.6 560.5 L635.9 560.5 L646.2 560.5 L656.5 560.5 L666.7 560.5 L677.0 560.5 L687.3 560.5 L697.5 560.5 L707.8 560.5 L718.1 560.5 L728.3 560.5 L738.6 560.5 L748.9 560.5 L759.2 560.5 L769.4 557.5 L779.7 560.5 L790.0 560.5 L800.2 533.1 L810.5 560.5"/>
<path stroke="#10c810" d="M163.5 560.5 L173.8 560.5 L184.0 560.5 L194.3 560.5 L204.6 560.5 L214.8 560.4 L225.1 553.0 L235.4 547.9 L245.7 536.9 L255.9 547.3 L266.2 557.9 L276.5 556.9 L286.7 560.5 L297.0 560.5 L307.3 560.5 L317.5 560.5 L327.8 560.5 L338.1 560.5 L348.4 556.1 L358.6 560.5 L368.9 560.5 L379.2 560.5 L389.4 560.5 L399.7 560.5 L410.0 560.5 L420.2 560.5 L430.5 560.5 L440.8 560.5 L451.1 560.5 L461.3 560.5 L471.6 560.5 L481.9 560.5 L492.1 560.5 L502.4 560.5 L512.7 560.5 L522.9 551.7 L533.2 549.3 L543.5 551.8 L553.8 560.5 L564.0 560.5 L574.3 560.5 L584.6 560.5 L594.8 560.5 L605.1 547.4 L615.4 560.5 L625.6 560.5 L635.9 523.5 L646.2 560.5 L656.5 560.5 L666.7 560.5 L677.0 560.5 L687.3 560.5 L697.5 560.5 L707.8 560.5 L718.1 558.8 L728.3 560.5 L738.6 560.5 L748.9 560.5 L759.2 560.5 L769.4 560.5 L779.7 560.5 L790.0 560.5 L800.2 560.5 L810.5 560.5"/>
<path stroke="#0018d0" d="M163.5 230.7 L173.8 242.3 L184.0 240.4 L194.3 237.1 L204.6 223.3 L214.8 217.6 L225.1 218.4 L235.4 226.8 L245.7 224.5 L255.9 246.1 L266.2 260.1 L276.5 265.6 L286.7 250.3 L297.0 255.7 L307.3 256.4 L317.5 261.1 L327.8 254.4 L338.1 248.9 L348.4 244.1 L358.6 252.2 L368.9 247.9 L379.2 239.4 L389.4 245.0 L399.7 249.5 L410.0 236.5 L420.2 228.6 L430.5 234.9 L440.8 239.5 L451.1 234.3 L461.3 221.6 L471.6 215.2 L481.9 206.8 L492.1 200.1 L502.4 181.7 L512.7 191.9 L522.9 195.5 L533.2 175.2 L543.5 168.8 L553.8 186.8 L564.0 196.1 L574.3 200.8 L584.6 207.7 L594.8 210.5 L605.1 237.1 L615.4 243.4 L625.6 240.8 L635.9 212.6 L646.2 232.4 L656.5 260.4 L666.7 253.0 L677.0 261.1 L687.3 272.5 L697.5 269.8 L707.8 266.0 L718.1 274.1 L728.3 267.9 L738.6 260.7 L748.9 253.7 L759.2 234.3 L769.4 216.3 L779.7 230.7 L790.0 245.8 L800.2 249.6 L810.5 260.9"/>
<path stroke="#0048d0" d="M163.5 232.9 L173.8 247.4 L184.0 247.7 L194.3 242.3 L204.6 228.5 L214.8 222.0 L225.1 220.8 L235.4 228.4 L245.7 232.4 L255.9 252.3 L266.2 264.1 L276.5 282.6 L286.7 263.9 L297.0 257.6 L307.3 241.5 L317.5 257.8 L327.8 260.3 L338.1 265.2 L348.4 282.6 L358.6 276.8 L368.9 274.9 L379.2 261.3 L389.4 257.7 L399.7 260.1 L410.0 246.5 L420.2 247.3 L430.5 243.4 L440.8 244.1 L451.1 247.9 L461.3 248.2 L471.6 249.2 L481.9 250.9 L492.1 229.1 L502.4 234.2 L512.7 222.2 L522.9 216.6 L533.2 198.8 L543.5 174.2 L553.8 171.5 L564.0 170.1 L574.3 168.8 L584.6 172.8 L594.8 186.8 L605.1 208.6 L615.4 249.3 L625.6 271.1 L635.9 287.1 L646.2 275.1 L656.5 265.1 L666.7 269.5 L677.0 243.4 L687.3 221.6 L697.5 226.3 L707.8 218.3 L718.1 205.4 L728.3 190.3 L738.6 174.9 L748.9 157.0 L759.2 156.5 L769.4 178.7 L779.7 179.7 L790.0 190.3 L800.2 190.8 L810.5 212.8"/>
<path stroke="#0070c8" d="M163.5 234.4 L173.8 243.8 L184.0 236.4 L194.3 229.6 L204.6 225.0 L214.8 235.0 L225.1 231.0 L235.4 229.0 L245.7 227.2 L255.9 236.6 L266.2 254.4 L276.5 261.5 L286.7 251.8 L297.0 241.7 L307.3 232.6 L317.5 243.8 L327.8 236.3 L338.1 237.6 L348.4 242.7 L358.6 247.0 L368.9 228.6 L379.2 237.1 L389.4 241.6 L399.7 231.0 L410.0 236.8 L420.2 243.9 L430.5 235.4 L440.8 236.2 L451.1 231.4 L461.3 234.0 L471.6 229.4 L481.9 230.2 L492.1 220.3 L502.4 218.7 L512.7 225.7 L522.9 202.0 L533.2 208.8 L543.5 210.9 L553.8 214.0 L564.0 234.7 L574.3 221.6 L584.6 238.4 L594.8 227.9 L605.1 233.4 L615.4 227.4 L625.6 241.9 L635.9 226.1 L646.2 246.1 L656.5 253.6 L666.7 251.7 L677.0 240.9 L687.3 254.2 L697.5 251.1 L707.8 257.7 L718.1 256.5 L728.3 271.8 L738.6 250.5 L748.9 248.0 L759.2 248.1 L769.4 253.6 L779.7 231.1 L790.0 250.2 L800.2 248.5 L810.5 232.7"/>
<path stroke="#0098c8" d="M163.5 229.6 L173.8 237.7 L184.0 236.4 L194.3 228.4 L204.6 215.0 L214.8 212.6 L225.1 214.6 L235.4 223.9 L245.7 233.1 L255.9 251.8 L266.2 268.6 L276.5 276.2 L286.7 263.0 L297.0 260.5 L307.3 257.9 L317.5 257.4 L327.8 237.8 L338.1 227.4 L348.4 220.7 L358.6 223.6 L368.9 218.7 L379.2 230.3 L389.4 239.4 L399.7 249.1 L410.0 238.8 L420.2 233.2 L430.5 226.4 L440.8 222.6 L451.1 221.7 L461.3 215.7 L471.6 233.2 L481.9 240.4 L492.1 227.9 L502.4 237.9 L512.7 217.5 L522.9 221.6 L533.2 203.2 L543.5 196.8 L553.8 201.0 L564.0 200.9 L574.3 190.5 L584.6 170.1 L594.8 153.9 L605.1 166.0 L615.4 178.2 L625.6 186.8 L635.9 195.5 L646.2 209.2 L656.5 224.5 L666.7 221.8 L677.0 218.3 L687.3 215.6 L697.5 194.7 L707.8 202.9 L718.1 204.8 L728.3 222.9 L738.6 219.9 L748.9 219.7 L759.2 233.3 L769.4 224.5 L779.7 219.9 L790.0 207.0 L800.2 206.7 L810.5 223.0"/>
<path stroke="#00a8b8" d="M163.5 245.6 L173.8 249.0 L184.0 259.4 L194.3 251.5 L204.6 243.0 L214.8 222.0 L225.1 223.3 L235.4 229.5 L245.7 234.7 L255.9 250.0 L266.2 269.3 L276.5 280.1 L286.7 260.5 L297.0 259.4 L307.3 257.2 L317.5 278.5 L327.8 265.8 L338.1 260.4 L348.4 254.6 L358.6 250.1 L368.9 250.5 L379.2 247.1 L389.4 254.6 L399.7 261.6 L410.0 254.4 L420.2 258.4 L430.5 254.7 L440.8 249.4 L451.1 252.7 L461.3 242.5 L471.6 232.0 L481.9 227.3 L492.1 216.7 L502.4 208.4 L512.7 196.7 L522.9 203.0 L533.2 199.1 L543.5 202.3 L553.8 222.1 L564.0 224.2 L574.3 209.8 L584.6 206.9 L594.8 212.9 L605.1 244.7 L615.4 252.5 L625.6 222.8 L635.9 228.3 L646.2 238.1 L656.5 256.6 L666.7 271.9 L677.0 282.9 L687.3 299.4 L697.5 297.5 L707.8 314.3 L718.1 308.1 L728.3 311.0 L738.6 318.8 L748.9 323.6 L759.2 333.3 L769.4 340.1 L779.7 336.2 L790.0 308.1 L800.2 294.6 L810.5 290.7"/>
<path stroke="#00a888" d="M163.5 228.2 L173.8 240.8 L184.0 240.7 L194.3 238.0 L204.6 219.6 L214.8 219.0 L225.1 212.6 L235.4 220.3 L245.7 229.1 L255.9 254.1 L266.2 259.6 L276.5 272.3 L286.7 249.5 L297.0 249.2 L307.3 240.3 L317.5 248.6 L327.8 240.0 L338.1 237.8 L348.4 244.1 L358.6 250.0 L368.9 245.5 L379.2 253.4 L389.4 254.8 L399.7 246.7 L410.0 234.5 L420.2 218.8 L430.5 221.2 L440.8 216.4 L451.1 196.0 L461.3 183.7 L471.6 170.1 L481.9 180.9 L492.1 147.1 L502.4 160.6 L512.7 186.3 L522.9 193.4 L533.2 202.3 L543.5 192.9 L553.8 205.5 L564.0 222.2 L574.3 216.3 L584.6 227.0 L594.8 242.8 L605.1 236.8 L615.4 255.4 L625.6 273.7 L635.9 266.8 L646.2 258.1 L656.5 247.2 L666.7 244.1 L677.0 242.0 L687.3 254.4 L697.5 262.0 L707.8 245.0 L718.1 247.6 L728.3 269.9 L738.6 240.2 L748.9 243.1 L759.2 243.0 L769.4 223.8 L779.7 223.3 L790.0 232.8 L800.2 246.4 L810.5 246.3"/>
<path stroke="#00a860" d="M163.5 231.7 L173.8 242.6 L184.0 242.7 L194.3 242.1 L204.6 227.3 L214.8 219.6 L225.1 216.2 L235.4 230.0 L245.7 227.8 L255.9 248.5 L266.2 267.1 L276.5 274.0 L286.7 253.3 L297.0 238.8 L307.3 235.6 L317.5 250.7 L327.8 242.7 L338.1 246.6 L348.4 252.0 L358.6 249.5 L368.9 263.2 L379.2 246.4 L389.4 252.6 L399.7 256.2 L410.0 240.4 L420.2 240.9 L430.5 231.3 L440.8 214.2 L451.1 200.4 L461.3 189.5 L471.6 183.6 L481.9 179.6 L492.1 159.3 L502.4 143.1 L512.7 134.4 L522.9 140.9 L533.2 151.2 L543.5 167.4 L553.8 189.0 L564.0 201.3 L574.3 194.6 L584.6 200.6 L594.8 207.1 L605.1 210.0 L615.4 210.5 L625.6 203.8 L635.9 234.4 L646.2 233.1 L656.5 222.4 L666.7 238.1 L677.0 246.0 L687.3 269.6 L697.5 260.0 L707.8 258.6 L718.1 246.1 L728.3 260.6 L738.6 236.0 L748.9 235.7 L759.2 248.0 L769.4 247.2 L779.7 263.4 L790.0 267.7 L800.2 282.5 L810.5 289.5"/>
<path stroke="#00b048" d="M163.5 236.0 L173.8 249.3 L184.0 244.3 L194.3 246.5 L204.6 227.5 L214.8 203.0 L225.1 192.0 L235.4 207.0 L245.7 221.6 L255.9 250.7 L266.2 261.9 L276.5 271.4 L286.7 245.5 L297.0 247.3 L307.3 242.7 L317.5 258.7 L327.8 260.4 L338.1 255.5 L348.4 259.0 L358.6 264.9 L368.9 257.2 L379.2 257.6 L389.4 251.8 L399.7 252.4 L410.0 247.6 L420.2 234.3 L430.5 235.2 L440.8 225.5 L451.1 233.4 L461.3 229.1 L471.6 229.9 L481.9 222.0 L492.1 209.9 L502.4 203.4 L512.7 193.6 L522.9 186.9 L533.2 201.9 L543.5 195.0 L553.8 195.7 L564.0 199.3 L574.3 190.8 L584.6 202.5 L594.8 213.4 L605.1 214.4 L615.4 215.9 L625.6 216.7 L635.9 216.7 L646.2 207.2 L656.5 218.0 L666.7 248.2 L677.0 244.4 L687.3 271.8 L697.5 223.7 L707.8 235.5 L718.1 241.2 L728.3 262.5 L738.6 238.6 L748.9 223.6 L759.2 203.9 L769.4 198.1 L779.7 188.4 L790.0 171.0 L800.2 145.8 L810.5 147.7"/>
<path stroke="#00b820" d="M163.5 224.4 L173.8 241.3 L184.0 239.1 L194.3 234.1 L204.6 216.1 L214.8 213.2 L225.1 213.6 L235.4 221.8 L245.7 226.3 L255.9 241.2 L266.2 260.2 L276.5 271.9 L286.7 268.1 L297.0 274.9 L307.3 261.3 L317.5 275.9 L327.8 268.1 L338.1 255.7 L348.4 240.7 L358.6 235.5 L368.9 230.9 L379.2 235.2 L389.4 237.8 L399.7 244.0 L410.0 242.4 L420.2 235.3 L430.5 229.8 L440.8 237.5 L451.1 237.5 L461.3 239.8 L471.6 225.2 L481.9 233.3 L492.1 222.4 L502.4 219.6 L512.7 214.9 L522.9 208.2 L533.2 230.8 L543.5 229.8 L553.8 235.9 L564.0 246.4 L574.3 239.1 L584.6 233.3 L594.8 243.4 L605.1 247.3 L615.4 240.8 L625.6 258.4 L635.9 263.7 L646.2 242.5 L656.5 240.0 L666.7 220.2 L677.0 205.8 L687.3 224.2 L697.5 228.6 L707.8 254.9 L718.1 223.9 L728.3 217.4 L738.6 213.9 L748.9 196.6 L759.2 225.1 L769.4 228.1 L779.7 226.1 L790.0 240.7 L800.2 205.2 L810.5 201.1"/>
<path stroke="#10c810" d="M163.5 230.7 L173.8 238.9 L184.0 232.5 L194.3 225.2 L204.6 209.4 L214.8 204.7 L225.1 201.0 L235.4 214.4 L245.7 225.4 L255.9 244.4 L266.2 266.6 L276.5 271.4 L286.7 256.6 L297.0 246.5 L307.3 241.6 L317.5 261.1 L327.8 248.9 L338.1 242.7 L348.4 259.2 L358.6 266.8 L368.9 263.3 L379.2 263.3 L389.4 261.4 L399.7 258.1 L410.0 245.9 L420.2 245.7 L430.5 239.3 L440.8 234.6 L451.1 233.5 L461.3 229.7 L471.6 223.0 L481.9 232.7 L492.1 229.6 L502.4 239.3 L512.7 223.5 L522.9 216.6 L533.2 207.1 L543.5 210.0 L553.8 212.8 L564.0 230.7 L574.3 231.7 L584.6 237.7 L594.8 262.9 L605.1 274.5 L615.4 285.2 L625.6 292.0 L635.9 296.8 L646.2 299.7 L656.5 295.8 L666.7 271.6 L677.0 264.9 L687.3 257.1 L697.5 247.4 L707.8 243.0 L718.1 238.8 L728.3 248.2 L738.6 257.5 L748.9 232.5 L759.2 233.8 L769.4 210.9 L779.7 212.1 L790.0 211.9 L800.2 236.9 L810.5 223.6"/>
<path stroke="#c8c000" d="M163.5 234.6 L173.8 244.7 L184.0 242.9 L194.3 237.4 L204.6 224.6 L214.8 215.8 L225.1 214.2 L235.4 225.4 L245.7 228.0 L255.9 254.1 L266.2 267.8 L276.5 278.5 L286.7 267.6 L297.0 257.3 L307.3 251.2 L317.5 266.3 L327.8 258.1 L338.1 251.3 L348.4 259.1 L358.6 252.6 L368.9 242.9 L379.2 246.1 L389.4 257.8 L399.7 250.5 L410.0 238.1 L420.2 237.3 L430.5 220.2 L440.8 208.6 L451.1 194.8 L461.3 189.3 L471.6 205.0 L481.9 212.9 L492.1 192.7 L502.4 190.8 L512.7 198.4 L522.9 193.8 L533.2 177.3 L543.5 193.5 L553.8 180.7 L564.0 197.4 L574.3 198.0 L584.6 217.5 L594.8 209.8 L605.1 222.4 L615.4 221.6 L625.6 227.8 L635.9 209.5 L646.2 239.0 L656.5 259.0 L666.7 268.0 L677.0 274.7 L687.3 269.9 L697.5 260.8 L707.8 249.0 L718.1 283.9 L728.3 305.2 L738.6 314.9 L748.9 310.0 L759.2 312.0 L769.4 313.9 L779.7 304.2 L790.0 301.3 L800.2 292.6 L810.5 304.2"/>
<path stroke="#c8a800" d="M163.5 234.9 L173.8 246.7 L184.0 241.9 L194.3 238.4 L204.6 225.4 L214.8 220.0 L225.1 215.2 L235.4 228.3 L245.7 232.2 L255.9 252.2 L266.2 260.5 L276.5 263.8 L286.7 256.0 L297.0 261.8 L307.3 262.2 L317.5 280.3 L327.8 266.3 L338.1 273.8 L348.4 267.6 L358.6 271.6 L368.9 262.4 L379.2 257.7 L389.4 256.5 L399.7 260.4 L410.0 259.4 L420.2 259.8 L430.5 260.4 L440.8 258.4 L451.1 257.5 L461.3 256.5 L471.6 255.5 L481.9 238.9 L492.1 216.6 L502.4 196.0 L512.7 188.0 L522.9 172.9 L533.2 195.4 L543.5 184.2 L553.8 173.8 L564.0 178.8 L574.3 181.4 L584.6 171.2 L594.8 192.9 L605.1 184.6 L615.4 183.5 L625.6 179.8 L635.9 182.8 L646.2 184.4 L656.5 184.1 L666.7 180.6 L677.0 174.5 L687.3 188.1 L697.5 183.9 L707.8 188.8 L718.1 197.7 L728.3 196.8 L738.6 181.6 L748.9 176.4 L759.2 180.1 L769.4 186.7 L779.7 178.6 L790.0 193.7 L800.2 216.0 L810.5 237.6"/>
<path stroke="#c89800" d="M163.5 234.0 L173.8 243.4 L184.0 238.9 L194.3 230.8 L204.6 215.6 L214.8 208.9 L225.1 205.4 L235.4 214.0 L245.7 217.9 L255.9 239.6 L266.2 244.5 L276.5 253.4 L286.7 230.0 L297.0 226.1 L307.3 230.1 L317.5 243.0 L327.8 233.2 L338.1 232.0 L348.4 235.1 L358.6 232.7 L368.9 223.9 L379.2 221.9 L389.4 224.7 L399.7 225.9 L410.0 220.9 L420.2 216.7 L430.5 217.9 L440.8 217.5 L451.1 227.2 L461.3 230.3 L471.6 229.9 L481.9 225.0 L492.1 214.6 L502.4 217.3 L512.7 201.0 L522.9 197.9 L533.2 185.8 L543.5 196.9 L553.8 226.3 L564.0 231.6 L574.3 225.4 L584.6 200.3 L594.8 189.3 L605.1 164.7 L615.4 160.6 L625.6 156.6 L635.9 151.2 L646.2 159.3 L656.5 158.7 L666.7 172.3 L677.0 176.9 L687.3 209.9 L697.5 241.9 L707.8 275.1 L718.1 250.7 L728.3 276.1 L738.6 260.7 L748.9 246.1 L759.2 259.1 L769.4 270.9 L779.7 252.1 L790.0 240.2 L800.2 240.1 L810.5 256.8"/>
<path stroke="#c88800" d="M163.5 228.3 L173.8 241.1 L184.0 237.9 L194.3 235.3 L204.6 218.6 L214.8 215.7 L225.1 208.1 L235.4 221.3 L245.7 225.0 L255.9 240.6 L266.2 254.6 L276.5 266.2 L286.7 246.7 L297.0 253.3 L307.3 239.3 L317.5 230.2 L327.8 221.6 L338.1 219.7 L348.4 212.5 L358.6 221.6 L368.9 217.8 L379.2 222.5 L389.4 229.4 L399.7 244.6 L410.0 245.3 L420.2 238.9 L430.5 229.7 L440.8 226.1 L451.1 244.3 L461.3 243.2 L471.6 235.8 L481.9 236.4 L492.1 240.6 L502.4 241.2 L512.7 244.5 L522.9 246.3 L533.2 246.0 L543.5 239.0 L553.8 248.4 L564.0 266.8 L574.3 280.7 L584.6 287.7 L594.8 284.8 L605.1 278.0 L615.4 288.1 L625.6 296.8 L635.9 301.6 L646.2 306.5 L656.5 283.3 L666.7 272.6 L677.0 270.7 L687.3 273.6 L697.5 262.6 L707.8 260.8 L718.1 249.2 L728.3 248.5 L738.6 241.3 L748.9 265.6 L759.2 281.0 L769.4 282.9 L779.7 282.9 L790.0 284.9 L800.2 289.7 L810.5 283.9"/>
<path stroke="#c87810" d="M163.5 238.0 L173.8 246.2 L184.0 245.5 L194.3 243.9 L204.6 224.7 L214.8 221.6 L225.1 214.9 L235.4 223.4 L245.7 227.0 L255.9 247.2 L266.2 263.0 L276.5 275.9 L286.7 263.4 L297.0 255.0 L307.3 254.2 L317.5 278.1 L327.8 277.4 L338.1 269.6 L348.4 263.5 L358.6 265.6 L368.9 255.3 L379.2 278.1 L389.4 266.9 L399.7 269.3 L410.0 258.8 L420.2 249.7 L430.5 244.2 L440.8 233.3 L451.1 229.1 L461.3 209.9 L471.6 204.9 L481.9 193.9 L492.1 189.0 L502.4 185.0 L512.7 172.3 L522.9 174.2 L533.2 170.1 L543.5 155.2 L553.8 132.2 L564.0 145.2 L574.3 137.1 L584.6 135.7 L594.8 128.2 L605.1 136.3 L615.4 120.1 L625.6 119.2 L635.9 95.7 L646.2 87.6 L656.5 105.2 L666.7 120.1 L677.0 136.3 L687.3 205.0 L697.5 222.0 L707.8 270.0 L718.1 234.0 L728.3 261.0 L738.6 274.3 L748.9 245.6 L759.2 214.5 L769.4 188.4 L779.7 174.9 L790.0 167.1 L800.2 171.0 L810.5 172.9"/>
<path stroke="#c07018" d="M163.5 230.1 L173.8 246.3 L184.0 240.0 L194.3 235.5 L204.6 223.8 L214.8 221.3 L225.1 214.8 L235.4 224.3 L245.7 226.7 L255.9 239.3 L266.2 260.2 L276.5 264.9 L286.7 251.1 L297.0 248.8 L307.3 246.3 L317.5 251.3 L327.8 240.1 L338.1 241.2 L348.4 229.4 L358.6 230.5 L368.9 229.2 L379.2 243.4 L389.4 256.8 L399.7 261.7 L410.0 243.6 L420.2 238.2 L430.5 227.3 L440.8 228.1 L451.1 235.2 L461.3 241.0 L471.6 242.3 L481.9 245.7 L492.1 230.9 L502.4 226.8 L512.7 206.5 L522.9 203.3 L533.2 193.8 L543.5 203.2 L553.8 201.3 L564.0 219.1 L574.3 226.2 L584.6 230.3 L594.8 231.9 L605.1 241.6 L615.4 268.7 L625.6 293.9 L635.9 303.6 L646.2 315.2 L656.5 330.7 L666.7 308.1 L677.0 290.0 L687.3 282.0 L697.5 264.5 L707.8 254.9 L718.1 239.9 L728.3 240.3 L738.6 237.9 L748.9 219.4 L759.2 215.6 L769.4 214.2 L779.7 217.8 L790.0 232.2 L800.2 251.9 L810.5 230.8"/>
<path stroke="#c05810" d="M163.5 234.8 L173.8 245.5 L184.0 242.6 L194.3 241.2 L204.6 224.6 L214.8 216.6 L225.1 209.8 L235.4 217.1 L245.7 218.5 L255.9 237.4 L266.2 251.2 L276.5 249.1 L286.7 238.7 L297.0 235.8 L307.3 223.0 L317.5 230.6 L327.8 229.1 L338.1 262.0 L348.4 305.0 L358.6 306.0 L368.9 278.0 L379.2 262.0 L389.4 235.0 L399.7 243.0 L410.0 235.8 L420.2 230.5 L430.5 215.1 L440.8 208.8 L451.1 216.4 L461.3 213.0 L471.6 213.9 L481.9 202.7 L492.1 193.4 L502.4 196.8 L512.7 190.3 L522.9 202.3 L533.2 222.9 L543.5 212.4 L553.8 216.0 L564.0 228.8 L574.3 216.3 L584.6 208.8 L594.8 217.2 L605.1 218.2 L615.4 221.8 L625.6 239.9 L635.9 233.2 L646.2 238.6 L656.5 223.4 L666.7 183.0 L677.0 182.5 L687.3 200.7 L697.5 205.8 L707.8 220.1 L718.1 204.8 L728.3 256.7 L738.6 246.1 L748.9 259.4 L759.2 272.0 L769.4 274.2 L779.7 252.8 L790.0 241.5 L800.2 245.5 L810.5 266.7"/>
<path stroke="#c04020" d="M163.5 226.2 L173.8 241.1 L184.0 237.7 L194.3 235.2 L204.6 216.3 L214.8 208.4 L225.1 208.0 L235.4 217.8 L245.7 220.2 L255.9 245.2 L266.2 265.8 L276.5 267.2 L286.7 250.4 L297.0 255.2 L307.3 238.5 L317.5 245.5 L327.8 238.6 L338.1 242.7 L348.4 245.3 L358.6 243.6 L368.9 222.9 L379.2 215.5 L389.4 222.8 L399.7 223.8 L410.0 218.5 L420.2 202.0 L430.5 202.5 L440.8 199.8 L451.1 203.2 L461.3 199.6 L471.6 194.4 L481.9 197.5 L492.1 205.7 L502.4 203.2 L512.7 207.6 L522.9 208.9 L533.2 202.6 L543.5 215.3 L553.8 221.1 L564.0 228.1 L574.3 203.0 L584.6 204.1 L594.8 193.7 L605.1 177.8 L615.4 184.0 L625.6 176.9 L635.9 168.8 L646.2 164.7 L656.5 178.2 L666.7 189.2 L677.0 195.9 L687.3 221.4 L697.5 203.8 L707.8 210.0 L718.1 195.4 L728.3 194.2 L738.6 192.3 L748.9 212.7 L759.2 204.8 L769.4 229.0 L779.7 217.3 L790.0 219.3 L800.2 221.0 L810.5 246.2"/>
<path stroke="#b03020" d="M163.5 233.2 L173.8 243.9 L184.0 237.5 L194.3 235.2 L204.6 220.7 L214.8 213.8 L225.1 214.0 L235.4 222.2 L245.7 222.6 L255.9 246.3 L266.2 260.7 L276.5 264.2 L286.7 250.0 L297.0 246.5 L307.3 251.6 L317.5 258.3 L327.8 250.3 L338.1 238.9 L348.4 233.7 L358.6 243.0 L368.9 238.0 L379.2 229.5 L389.4 236.6 L399.7 233.5 L410.0 229.3 L420.2 232.9 L430.5 242.9 L440.8 235.1 L451.1 223.0 L461.3 206.3 L471.6 212.9 L481.9 213.7 L492.1 199.9 L502.4 185.8 L512.7 185.6 L522.9 190.5 L533.2 199.2 L543.5 197.3 L553.8 194.9 L564.0 183.8 L574.3 199.6 L584.6 194.0 L594.8 194.0 L605.1 204.2 L615.4 216.3 L625.6 228.7 L635.9 209.4 L646.2 225.3 L656.5 227.2 L666.7 219.2 L677.0 255.4 L687.3 269.3 L697.5 274.4 L707.8 274.5 L718.1 276.3 L728.3 276.2 L738.6 243.8 L748.9 248.8 L759.2 256.1 L769.4 262.5 L779.7 272.1 L790.0 272.0 L800.2 278.2 L810.5 282.7"/>
<path stroke="#a02020" d="M163.5 234.3 L173.8 250.1 L184.0 248.0 L194.3 247.3 L204.6 230.0 L214.8 223.9 L225.1 222.8 L235.4 226.0 L245.7 227.7 L255.9 250.6 L266.2 269.0 L276.5 276.2 L286.7 267.5 L297.0 260.5 L307.3 269.1 L317.5 273.2 L327.8 266.2 L338.1 259.7 L348.4 258.0 L358.6 252.7 L368.9 242.4 L379.2 234.7 L389.4 239.5 L399.7 255.2 L410.0 240.6 L420.2 241.4 L430.5 232.6 L440.8 227.3 L451.1 197.6 L461.3 188.8 L471.6 179.6 L481.9 180.4 L492.1 178.8 L502.4 186.3 L512.7 176.9 L522.9 172.8 L533.2 153.9 L543.5 178.2 L553.8 184.5 L564.0 194.8 L574.3 187.9 L584.6 192.6 L594.8 187.7 L605.1 222.8 L615.4 249.9 L625.6 273.4 L635.9 271.8 L646.2 260.3 L656.5 254.6 L666.7 262.1 L677.0 253.5 L687.3 243.1 L697.5 249.8 L707.8 229.0 L718.1 223.9 L728.3 203.9 L738.6 188.4 L748.9 172.9 L759.2 162.3 L769.4 174.9 L779.7 180.7 L790.0 181.6 L800.2 186.5 L810.5 202.6"/>
<path stroke="#0018d0" d="M163.5 234.8 L173.8 247.7 L184.0 243.5 L194.3 238.8 L204.6 226.5 L214.8 221.2 L225.1 217.8 L235.4 226.6 L245.7 230.2 L255.9 255.4 L266.2 265.2 L276.5 271.2 L286.7 254.9 L297.0 257.0 L307.3 252.8 L317.5 264.0 L327.8 253.2 L338.1 244.1 L348.4 242.3 L358.6 237.4 L368.9 235.5 L379.2 246.4 L389.4 240.6 L399.7 246.3 L410.0 211.0 L420.2 198.2 L430.5 188.1 L440.8 171.6 L451.1 186.2 L461.3 178.4 L471.6 188.1 L481.9 196.6 L492.1 202.7 L502.4 220.1 L512.7 228.6 L522.9 242.0 L533.2 244.3 L543.5 229.9 L553.8 211.3 L564.0 216.2 L574.3 214.7 L584.6 216.5 L594.8 212.2 L605.1 238.7 L615.4 229.1 L625.6 236.1 L635.9 225.1 L646.2 214.4 L656.5 222.5 L666.7 254.8 L677.0 251.2 L687.3 266.4 L697.5 266.6 L707.8 273.6 L718.1 269.2 L728.3 269.1 L738.6 273.4 L748.9 269.2 L759.2 255.9 L769.4 272.5 L779.7 272.6 L790.0 272.8 L800.2 270.5 L810.5 265.4"/>
<path stroke="#0048d0" d="M163.5 223.7 L173.8 237.6 L184.0 234.5 L194.3 234.6 L204.6 221.1 L214.8 214.6 L225.1 210.8 L235.4 218.4 L245.7 225.7 L255.9 247.4 L266.2 252.5 L276.5 262.5 L286.7 246.1 L297.0 249.8 L307.3 243.5 L317.5 247.6 L327.8 243.1 L338.1 239.6 L348.4 235.8 L358.6 245.2 L368.9 243.7 L379.2 250.3 L389.4 231.9 L399.7 235.2 L410.0 215.5 L420.2 220.7 L430.5 221.2 L440.8 220.2 L451.1 219.9 L461.3 214.5 L471.6 212.5 L481.9 200.2 L492.1 193.0 L502.4 191.2 L512.7 194.3 L522.9 201.6 L533.2 202.5 L543.5 209.1 L553.8 217.4 L564.0 230.8 L574.3 218.4 L584.6 206.5 L594.8 200.4 L605.1 221.9 L615.4 245.5 L625.6 240.4 L635.9 229.2 L646.2 231.3 L656.5 248.7 L666.7 251.6 L677.0 229.2 L687.3 235.5 L697.5 240.4 L707.8 241.8 L718.1 246.4 L728.3 230.4 L738.6 206.9 L748.9 198.3 L759.2 201.6 L769.4 203.1 L779.7 209.8 L790.0 218.3 L800.2 215.6 L810.5 193.8"/>
<path stroke="#0070c8" d="M163.5 230.1 L173.8 244.5 L184.0 239.8 L194.3 234.8 L204.6 220.4 L214.8 216.9 L225.1 214.0 L235.4 224.0 L245.7 226.7 L255.9 247.3 L266.2 254.3 L276.5 263.5 L286.7 248.3 L297.0 239.5 L307.3 237.1 L317.5 239.0 L327.8 247.5 L338.1 249.5 L348.4 246.9 L358.6 260.9 L368.9 247.9 L379.2 262.6 L389.4 257.0 L399.7 262.7 L410.0 258.7 L420.2 256.3 L430.5 240.0 L440.8 253.2 L451.1 251.9 L461.3 251.7 L471.6 248.6 L481.9 238.2 L492.1 235.7 L502.4 236.5 L512.7 247.1 L522.9 277.1 L533.2 291.6 L543.5 278.1 L553.8 265.5 L564.0 261.6 L574.3 246.0 L584.6 234.1 L594.8 240.9 L605.1 243.8 L615.4 264.2 L625.6 268.6 L635.9 258.2 L646.2 289.0 L656.5 251.6 L666.7 247.4 L677.0 265.8 L687.3 268.6 L697.5 265.1 L707.8 271.8 L718.1 267.5 L728.3 283.5 L738.6 281.5 L748.9 281.1 L759.2 284.7 L769.4 290.3 L779.7 283.8 L790.0 288.6 L800.2 284.2 L810.5 299.8"/>
<path stroke="#0098c8" d="M163.5 227.3 L173.8 240.4 L184.0 240.1 L194.3 233.3 L204.6 219.1 L214.8 212.6 L225.1 207.9 L235.4 213.7 L245.7 220.7 L255.9 242.7 L266.2 250.7 L276.5 255.3 L286.7 238.6 L297.0 234.6 L307.3 222.3 L317.5 239.3 L327.8 229.2 L338.1 228.3 L348.4 232.2 L358.6 239.6 L368.9 229.5 L379.2 227.6 L389.4 232.0 L399.7 241.9 L410.0 236.3 L420.2 212.8 L430.5 217.9 L440.8 212.8 L451.1 207.7 L461.3 197.8 L471.6 196.5 L481.9 193.9 L492.1 195.0 L502.4 198.1 L512.7 183.9 L522.9 176.8 L533.2 181.6 L543.5 194.0 L553.8 183.4 L564.0 194.8 L574.3 206.1 L584.6 187.5 L594.8 197.9 L605.1 210.0 L615.4 199.2 L625.6 207.2 L635.9 218.9 L646.2 235.6 L656.5 239.1 L666.7 232.4 L677.0 193.7 L687.3 196.3 L697.5 186.0 L707.8 189.6 L718.1 188.6 L728.3 193.0 L738.6 190.1 L748.9 189.3 L759.2 200.5 L769.4 218.1 L779.7 215.6 L790.0 216.9 L800.2 224.7 L810.5 208.7"/>
<path stroke="#00a8b8" d="M163.5 234.1 L173.8 243.3 L184.0 240.1 L194.3 237.3 L204.6 220.3 L214.8 219.2 L225.1 212.9 L235.4 225.8 L245.7 231.1 L255.9 245.0 L266.2 263.8 L276.5 273.5 L286.7 251.9 L297.0 251.8 L307.3 245.3 L317.5 250.4 L327.8 247.9 L338.1 233.9 L348.4 239.7 L358.6 242.7 L368.9 236.6 L379.2 231.5 L389.4 234.9 L399.7 233.2 L410.0 215.8 L420.2 220.5 L430.5 221.4 L440.8 220.9 L451.1 209.5 L461.3 210.3 L471.6 205.3 L481.9 209.5 L492.1 213.3 L502.4 212.5 L512.7 207.9 L522.9 224.6 L533.2 219.8 L543.5 226.5 L553.8 234.5 L564.0 224.6 L574.3 221.0 L584.6 223.6 L594.8 202.8 L605.1 201.0 L615.4 211.0 L625.6 213.4 L635.9 220.6 L646.2 219.6 L656.5 212.5 L666.7 204.3 L677.0 211.1 L687.3 218.1 L697.5 215.4 L707.8 248.4 L718.1 270.2 L728.3 247.9 L738.6 254.4 L748.9 265.7 L759.2 265.1 L769.4 262.5 L779.7 252.0 L790.0 248.1 L800.2 239.2 L810.5 224.2"/>
<path stroke="#00a888" d="M163.5 226.3 L173.8 239.5 L184.0 238.2 L194.3 235.2 L204.6 220.6 L214.8 215.4 L225.1 213.8 L235.4 220.7 L245.7 229.7 L255.9 255.2 L266.2 268.4 L276.5 271.0 L286.7 254.4 L297.0 252.2 L307.3 251.4 L317.5 258.9 L327.8 255.5 L338.1 247.3 L348.4 250.0 L358.6 255.5 L368.9 242.6 L379.2 244.0 L389.4 247.1 L399.7 263.8 L410.0 259.3 L420.2 257.9 L430.5 248.9 L440.8 248.1 L451.1 226.9 L461.3 215.1 L471.6 231.0 L481.9 242.2 L492.1 252.0 L502.4 280.0 L512.7 290.7 L522.9 321.3 L533.2 311.8 L543.5 299.0 L553.8 295.8 L564.0 300.7 L574.3 295.8 L584.6 306.5 L594.8 307.5 L605.1 309.0 L615.4 290.0 L625.6 274.5 L635.9 262.0 L646.2 278.4 L656.5 262.9 L666.7 258.1 L677.0 242.5 L687.3 249.0 L697.5 252.7 L707.8 257.5 L718.1 235.3 L728.3 254.7 L738.6 260.6 L748.9 239.5 L759.2 244.9 L769.4 250.1 L779.7 251.6 L790.0 215.2 L800.2 259.3 L810.5 232.7"/>
<path stroke="#00a860" d="M163.5 224.8 L173.8 242.0 L184.0 240.9 L194.3 235.7 L204.6 222.4 L214.8 216.5 L225.1 212.2 L235.4 220.3 L245.7 223.4 L255.9 248.2 L266.2 258.6 L276.5 266.3 L286.7 248.4 L297.0 239.0 L307.3 239.3 L317.5 244.4 L327.8 240.0 L338.1 244.8 L348.4 242.8 L358.6 248.7 L368.9 241.3 L379.2 263.7 L389.4 256.9 L399.7 262.4 L410.0 237.3 L420.2 225.4 L430.5 232.3 L440.8 219.6 L451.1 219.8 L461.3 224.1 L471.6 219.3 L481.9 218.7 L492.1 195.3 L502.4 190.2 L512.7 174.7 L522.9 173.0 L533.2 170.1 L543.5 159.3 L553.8 151.2 L564.0 152.5 L574.3 157.1 L584.6 160.6 L594.8 175.5 L605.1 187.6 L615.4 205.6 L625.6 203.6 L635.9 226.4 L646.2 210.4 L656.5 199.5 L666.7 205.7 L677.0 186.2 L687.3 220.3 L697.5 198.7 L707.8 206.1 L718.1 210.9 L728.3 202.5 L738.6 194.9 L748.9 207.7 L759.2 235.7 L769.4 233.2 L779.7 237.8 L790.0 221.9 L800.2 205.6 L810.5 232.3"/>
<path stroke="#00b048" d="M163.5 233.6 L173.8 247.2 L184.0 246.1 L194.3 235.2 L204.6 220.6 L214.8 218.5 L225.1 217.3 L235.4 226.6 L245.7 229.8 L255.9 257.9 L266.2 262.1 L276.5 271.2 L286.7 259.9 L297.0 254.5 L307.3 250.0 L317.5 258.9 L327.8 260.3 L338.1 243.6 L348.4 240.4 L358.6 235.5 L368.9 221.6 L379.2 230.4 L389.4 228.6 L399.7 241.8 L410.0 226.5 L420.2 217.2 L430.5 221.3 L440.8 220.4 L451.1 215.6 L461.3 227.8 L471.6 235.8 L481.9 232.2 L492.1 214.8 L502.4 209.1 L512.7 210.1 L522.9 203.0 L533.2 217.4 L543.5 220.1 L553.8 203.8 L564.0 201.9 L574.3 200.5 L584.6 178.6 L594.8 183.5 L605.1 205.1 L615.4 215.9 L625.6 220.4 L635.9 222.1 L646.2 223.5 L656.5 261.4 L666.7 262.6 L677.0 264.0 L687.3 265.7 L697.5 269.1 L707.8 256.0 L718.1 264.1 L728.3 277.1 L738.6 239.9 L748.9 217.6 L759.2 218.3 L769.4 223.8 L779.7 203.2 L790.0 209.1 L800.2 197.0 L810.5 195.9"/>
<path stroke="#00b820" d="M163.5 227.8 L173.8 240.8 L184.0 234.2 L194.3 235.5 L204.6 224.5 L214.8 220.3 L225.1 212.0 L235.4 225.7 L245.7 226.1 L255.9 241.8 L266.2 254.4 L276.5 262.4 L286.7 241.1 L297.0 242.5 L307.3 238.1 L317.5 252.6 L327.8 244.1 L338.1 234.4 L348.4 241.0 L358.6 239.7 L368.9 235.1 L379.2 229.7 L389.4 239.0 L399.7 256.0 L410.0 235.3 L420.2 238.6 L430.5 228.6 L440.8 214.5 L451.1 195.8 L461.3 187.2 L471.6 198.0 L481.9 192.4 L492.1 189.4 L502.4 185.6 L512.7 195.4 L522.9 200.3 L533.2 179.4 L543.5 172.6 L553.8 173.5 L564.0 176.5 L574.3 198.2 L584.6 225.2 L594.8 245.0 L605.1 283.0 L615.4 322.0 L625.6 323.5 L635.9 338.0 L646.2 338.0 L656.5 329.0 L666.7 324.7 L677.0 328.6 L687.3 333.3 L697.5 329.4 L707.8 320.1 L718.1 327.5 L728.3 324.6 L738.6 317.8 L748.9 316.8 L759.2 317.8 L769.4 321.7 L779.7 313.0 L790.0 309.1 L800.2 308.7 L810.5 320.7"/>
<path stroke="#10c810" d="M163.5 231.6 L173.8 246.3 L184.0 239.5 L194.3 237.7 L204.6 223.8 L214.8 214.5 L225.1 216.4 L235.4 230.5 L245.7 229.1 L255.9 255.2 L266.2 274.7 L276.5 278.0 L286.7 267.2 L297.0 265.5 L307.3 263.8 L317.5 274.2 L327.8 261.3 L338.1 252.4 L348.4 257.2 L358.6 265.9 L368.9 237.4 L379.2 245.4 L389.4 238.2 L399.7 244.1 L410.0 227.0 L420.2 228.5 L430.5 239.2 L440.8 227.2 L451.1 233.2 L461.3 227.6 L471.6 231.1 L481.9 235.2 L492.1 230.6 L502.4 227.4 L512.7 231.1 L522.9 230.2 L533.2 236.0 L543.5 243.4 L553.8 221.9 L564.0 213.2 L574.3 212.3 L584.6 220.0 L594.8 233.1 L605.1 242.5 L615.4 227.5 L625.6 214.8 L635.9 214.4 L646.2 218.5 L656.5 205.1 L666.7 194.0 L677.0 205.9 L687.3 207.0 L697.5 236.5 L707.8 231.8 L718.1 240.2 L728.3 244.6 L738.6 244.2 L748.9 225.1 L759.2 234.3 L769.4 266.8 L779.7 266.8 L790.0 269.7 L800.2 271.8 L810.5 279.7"/>
</g>
<path stroke="#0000ff" stroke-width="2.9" d="M163.5 560.5 L173.8 560.5 L184.0 560.5 L194.3 560.5 L204.6 560.5 L214.8 560.5 L225.1 560.5 L235.4 558.0 L245.7 545.0 L255.9 533.0 L266.2 545.0 L276.5 558.0 L286.7 560.5 L297.0 560.5 L307.3 560.5 L317.5 560.5 L327.8 560.5 L338.1 560.5 L348.4 560.5 L358.6 560.5 L368.9 560.5 L379.2 560.5 L389.4 560.5 L399.7 560.5 L410.0 560.5 L420.2 560.5 L430.5 560.5 L440.8 560.5 L451.1 560.5 L461.3 560.5 L471.6 560.5 L481.9 560.5 L492.1 560.5 L502.4 560.5 L512.7 560.5 L522.9 560.5 L533.2 560.5 L543.5 560.5 L553.8 560.5 L564.0 560.5 L574.3 560.5 L584.6 560.5 L594.8 560.5 L605.1 560.5 L615.4 560.5 L625.6 557.0 L635.9 546.0 L646.2 558.0 L656.5 560.5 L666.7 560.5 L677.0 560.5 L687.3 560.5 L697.5 560.5 L707.8 560.5 L718.1 560.5 L728.3 560.5 L738.6 560.5 L748.9 545.0 L759.2 502.6 L769.4 545.0 L779.7 560.5 L790.0 560.5 L800.2 560.5 L810.5 560.5"/>
<path stroke="#ffffff" stroke-width="3" d="M163.5 560.5 L173.8 560.5 L184.0 560.5 L194.3 560.5 L204.6 560.5 L214.8 559.0 L225.1 556.0 L235.4 553.0 L245.7 548.0 L255.9 540.0 L266.2 548.0 L276.5 557.0 L286.7 560.5 L297.0 560.5 L307.3 560.5 L317.5 560.5 L327.8 560.5 L338.1 560.5 L348.4 560.5 L358.6 560.5 L368.9 560.5 L379.2 560.5 L389.4 560.5 L399.7 560.5 L410.0 559.7 L420.2 559.5 L430.5 559.6 L440.8 559.6 L451.1 558.5 L461.3 557.5 L471.6 558.0 L481.9 559.6 L492.1 559.6 L502.4 558.0 L512.7 557.5 L522.9 558.5 L533.2 559.7 L543.5 559.5 L553.8 559.5 L564.0 558.0 L574.3 553.0 L584.6 557.0 L594.8 551.0 L605.1 546.5 L615.4 548.0 L625.6 546.0 L635.9 555.0 L646.2 556.0 L656.5 556.1 L666.7 555.7 L677.0 555.6 L687.3 556.2 L697.5 555.3 L707.8 556.3 L718.1 555.5 L728.3 555.8 L738.6 556.0 L748.9 555.0 L759.2 552.0 L769.4 550.0 L779.7 557.0 L790.0 555.8 L800.2 555.5 L810.5 551.0"/>
<path stroke="#00e000" stroke-width="3" d="M163.5 560.5 L173.8 560.5 L184.0 560.5 L194.3 560.5 L204.6 560.5 L214.8 560.5 L225.1 560.5 L235.4 559.0 L245.7 540.0 L255.9 519.0 L266.2 520.0 L276.5 558.0 L286.7 560.5 L297.0 560.5 L307.3 560.5 L317.5 560.5 L327.8 560.5 L338.1 560.5 L348.4 560.5 L358.6 560.5 L368.9 560.5 L379.2 560.5 L389.4 560.5 L399.7 560.5 L410.0 560.5 L420.2 560.5 L430.5 560.5 L440.8 560.5 L451.1 553.0 L461.3 560.5 L471.6 560.5 L481.9 560.5 L492.1 560.5 L502.4 546.0 L512.7 554.0 L522.9 560.5 L533.2 560.5 L543.5 560.5 L553.8 560.5 L564.0 560.5 L574.3 560.5 L584.6 560.5 L594.8 560.5 L605.1 560.5 L615.4 560.5 L625.6 556.0 L635.9 491.0 L646.2 556.0 L656.5 560.5 L666.7 560.5 L677.0 557.0 L687.3 555.5 L697.5 558.0 L707.8 560.5 L718.1 560.5 L728.3 560.5 L738.6 558.0 L748.9 551.8 L759.2 556.0 L769.4 552.6 L779.7 560.0 L790.0 560.5 L800.2 560.5 L810.5 560.5"/>
<path stroke="#0000ff" stroke-width="2.95" d="M163.5 230.7 L173.8 246.8 L184.0 242.0 L194.3 238.1 L204.6 216.8 L214.8 209.0 L225.1 201.3 L235.4 213.9 L245.7 222.6 L255.9 245.8 L266.2 260.4 L276.5 267.1 L286.7 247.8 L297.0 246.8 L307.3 242.0 L317.5 254.6 L327.8 247.8 L338.1 243.9 L348.4 249.7 L358.6 251.6 L368.9 241.0 L379.2 245.8 L389.4 246.8 L399.7 247.8 L410.0 246.8 L420.2 244.3 L430.5 242.3 L440.8 237.5 L451.1 232.6 L461.3 221.0 L471.6 220.6 L481.9 220.0 L492.1 215.2 L502.4 214.2 L512.7 205.5 L522.9 200.7 L533.2 199.7 L543.5 196.8 L553.8 196.8 L564.0 192.0 L574.3 186.2 L584.6 188.1 L594.8 176.5 L605.1 180.7 L615.4 192.0 L625.6 204.6 L635.9 215.2 L646.2 228.8 L656.5 227.8 L666.7 234.6 L677.0 238.4 L687.3 240.7 L697.5 230.0 L707.8 231.0 L718.1 223.3 L728.3 219.4 L738.6 202.0 L748.9 177.2 L759.2 198.1 L769.4 233.0 L779.7 255.8 L790.0 262.6 L800.2 266.5 L810.5 261.6"/>
<path stroke="#ffffff" stroke-width="2.9" d="M163.5 230.7 L173.8 243.5 L184.0 240.4 L194.3 236.2 L204.6 222.2 L214.8 217.8 L225.1 214.9 L235.4 224.2 L245.7 227.4 L255.9 247.8 L266.2 261.3 L276.5 269.5 L286.7 254.6 L297.0 249.7 L307.3 247.8 L317.5 256.5 L327.8 248.7 L338.1 244.9 L348.4 245.8 L358.6 247.8 L368.9 240.0 L379.2 242.0 L389.4 243.9 L399.7 246.8 L410.0 238.1 L420.2 234.6 L430.5 230.7 L440.8 227.8 L451.1 223.0 L461.3 220.6 L471.6 220.6 L481.9 222.6 L492.1 215.2 L502.4 216.2 L512.7 216.2 L522.9 217.1 L533.2 216.2 L543.5 215.2 L553.8 214.6 L564.0 220.0 L574.3 214.6 L584.6 213.3 L594.8 210.9 L605.1 216.2 L615.4 221.0 L625.6 225.3 L635.9 226.2 L646.2 229.7 L656.5 229.1 L666.7 227.8 L677.0 228.8 L687.3 235.9 L697.5 234.9 L707.8 236.8 L718.1 235.9 L728.3 240.3 L738.6 236.8 L748.9 234.9 L759.2 233.5 L769.4 237.8 L779.7 235.9 L790.0 236.8 L800.2 239.1 L810.5 242.6"/>
<path stroke="#00dd00" stroke-width="2.95" d="M163.5 226.5 L173.8 238.1 L184.0 228.4 L194.3 229.4 L204.6 212.0 L214.8 209.0 L225.1 208.1 L235.4 214.9 L245.7 224.5 L255.9 243.9 L266.2 257.5 L276.5 271.0 L286.7 243.9 L297.0 248.7 L307.3 248.7 L317.5 259.4 L327.8 251.6 L338.1 248.7 L348.4 244.9 L358.6 242.0 L368.9 236.2 L379.2 236.2 L389.4 240.0 L399.7 242.0 L410.0 224.5 L420.2 213.3 L430.5 205.5 L440.8 209.4 L451.1 204.6 L461.3 204.6 L471.6 206.5 L481.9 208.4 L492.1 207.5 L502.4 208.4 L512.7 215.2 L522.9 219.1 L533.2 206.5 L543.5 211.3 L553.8 204.6 L564.0 192.0 L574.3 185.2 L584.6 180.3 L594.8 171.6 L605.1 169.7 L615.4 164.9 L625.6 183.3 L635.9 204.6 L646.2 195.8 L656.5 208.4 L666.7 209.4 L677.0 215.2 L687.3 214.6 L697.5 211.6 L707.8 213.6 L718.1 216.5 L728.3 209.7 L738.6 204.9 L748.9 228.1 L759.2 219.4 L769.4 225.2 L779.7 218.4 L790.0 198.1 L800.2 185.5 L810.5 191.3"/>
<path stroke="#f04848" stroke-width="2.9" d="M163.5 226.5 L173.8 227.8 L184.0 231.9 L194.3 230.7 L204.6 221.1 L214.8 219.7 L225.1 220.7 L235.4 221.6 L245.7 216.4 L255.9 216.8 L266.2 222.2 L276.5 228.0 L286.7 227.4 L297.0 231.9 L307.3 230.7 L317.5 233.3 L327.8 227.4 L338.1 223.6 L348.4 222.6 L358.6 223.6 L368.9 215.8 L379.2 218.7 L389.4 225.5 L399.7 237.1 L410.0 238.1 L420.2 240.4 L430.5 241.3 L440.8 241.3 L451.1 235.5 L461.3 231.7 L471.6 226.8 L481.9 228.8 L492.1 223.0 L502.4 224.9 L512.7 226.8 L522.9 231.7 L533.2 231.7 L543.5 234.6 L553.8 237.5 L564.0 238.4 L574.3 228.8 L584.6 227.8 L594.8 229.1 L605.1 230.3 L615.4 228.8 L625.6 226.2 L635.9 226.2 L646.2 231.7 L656.5 229.7 L666.7 235.5 L677.0 240.4 L687.3 243.2 L697.5 241.7 L707.8 245.5 L718.1 250.4 L728.3 255.6 L738.6 254.3 L748.9 253.3 L759.2 252.3 L769.4 255.2 L779.7 251.3 L790.0 254.3 L800.2 258.1 L810.5 260.1"/>
</g>
<g stroke="#e6e6e6" stroke-width="1" fill="none" shape-rendering="crispEdges">
<path d="M163.5 30 V561 M163 30.5 H811 M810.5 30 V561"/>
<path d="M163 560.5 H811" stroke="#f6eaf6"/>
<path d="M805.0 560.5 H810"/>
<path d="M807.0 547.5 H810"/>
<path d="M805.0 533.5 H810"/>
<path d="M807.0 520.5 H810"/>
<path d="M805.0 507.5 H810"/>
<path d="M807.0 494.5 H810"/>
<path d="M805.0 480.5 H810"/>
<path d="M807.0 467.5 H810"/>
<path d="M805.0 454.5 H810"/>
<path d="M807.0 441.5 H810"/>
<path d="M805.0 427.5 H810"/>
<path d="M807.0 414.5 H810"/>
<path d="M805.0 401.5 H810"/>
<path d="M807.0 388.5 H810"/>
<path d="M805.0 374.5 H810"/>
<path d="M807.0 361.5 H810"/>
<path d="M805.0 348.5 H810"/>
<path d="M807.0 335.5 H810"/>
<path d="M805.0 321.5 H810"/>
<path d="M807.0 308.5 H810"/>
<path d="M805.0 295.5 H810"/>
<path d="M807.0 282.5 H810"/>
<path d="M805.0 268.5 H810"/>
<path d="M807.0 255.5 H810"/>
<path d="M805.0 242.5 H810"/>
<path d="M807.0 229.5 H810"/>
<path d="M805.0 215.5 H810"/>
<path d="M807.0 202.5 H810"/>
<path d="M805.0 189.5 H810"/>
<path d="M807.0 176.5 H810"/>
<path d="M805.0 162.5 H810"/>
<path d="M807.0 149.5 H810"/>
<path d="M805.0 136.5 H810"/>
<path d="M807.0 123.5 H810"/>
<path d="M805.0 109.5 H810"/>
<path d="M807.0 96.5 H810"/>
<path d="M805.0 83.5 H810"/>
<path d="M807.0 70.5 H810"/>
<path d="M805.0 56.5 H810"/>
<path d="M807.0 43.5 H810"/>
<path d="M805.0 30.5 H810"/>
</g>
<g fill="#fff" font-family="'DejaVu Sans','Liberation Sans',sans-serif" font-size="10px" letter-spacing="0.2">
<text x="154.0" y="33.1" text-anchor="end">25</text>
<text x="154.0" y="92.0" text-anchor="end">20</text>
<text x="154.0" y="150.9" text-anchor="end">15</text>
<text x="154.0" y="209.8" text-anchor="end">10</text>
<text x="154.0" y="268.7" text-anchor="end">5</text>
<text x="154.0" y="327.6" text-anchor="end">0</text>
<text x="154.0" y="386.4" text-anchor="end">-5</text>
<text x="154.0" y="445.3" text-anchor="end">-10</text>
<text x="154.0" y="504.2" text-anchor="end">-15</text>
<text x="154.0" y="563.1" text-anchor="end">-20</text>
<text x="817" y="562.9">0</text>
<text x="817" y="430.4">10</text>
<text x="817" y="297.9">20</text>
<text x="817" y="165.4">30</text>
<text x="817" y="32.9">40</text>
<text x="162.6" y="577" text-anchor="middle" letter-spacing="0.33">24Oct 12z</text>
<text x="244.8" y="577" text-anchor="middle" letter-spacing="0.33">26Oct 12z</text>
<text x="326.9" y="577" text-anchor="middle" letter-spacing="0.33">28Oct 12z</text>
<text x="409.1" y="577" text-anchor="middle" letter-spacing="0.33">30Oct 12z</text>
<text x="491.2" y="577" text-anchor="middle" letter-spacing="0.33">01Nov 12z</text>
<text x="573.4" y="577" text-anchor="middle" letter-spacing="0.33">03Nov 12z</text>
<text x="655.6" y="577" text-anchor="middle" letter-spacing="0.33">05Nov 12z</text>
<text x="737.7" y="577" text-anchor="middle" letter-spacing="0.33">07Nov 12z</text>
<text x="486.4" y="593" text-anchor="middle" letter-spacing="0.4">Date (UTC)</text>
<text transform="translate(134.9,296.3) rotate(-90)" text-anchor="middle" letter-spacing="0.38">850 hPa Temp. (°C)</text>
<text transform="translate(842.6,296.7) rotate(-90)" text-anchor="middle" letter-spacing="0.4">Niederschlag (mm)</text>
<path d="M0 41.0 H8" stroke="#0018d0" stroke-width="2" fill="none"/>
<text x="8.6" y="42.8">P1</text>
<path d="M53 41.0 H64" stroke="#0048d0" stroke-width="2" fill="none"/>
<text x="64.6" y="42.8">P2</text>
<path d="M0 56.0 H8" stroke="#0070c8" stroke-width="2" fill="none"/>
<text x="8.6" y="57.8">P3</text>
<path d="M53 56.0 H64" stroke="#0098c8" stroke-width="2" fill="none"/>
<text x="64.6" y="57.8">P4</text>
<path d="M0 71.0 H8" stroke="#00a8b8" stroke-width="2" fill="none"/>
<text x="8.6" y="72.8">P5</text>
<path d="M53 71.0 H64" stroke="#00a888" stroke-width="2" fill="none"/>
<text x="64.6" y="72.8">P6</text>
<path d="M0 86.0 H8" stroke="#00a860" stroke-width="2" fill="none"/>
<text x="8.6" y="87.8">P7</text>
<path d="M53 86.0 H64" stroke="#00b048" stroke-width="2" fill="none"/>
<text x="64.6" y="87.8">P8</text>
<path d="M0 101.0 H8" stroke="#00b820" stroke-width="2" fill="none"/>
<text x="8.6" y="102.8">P9</text>
<path d="M53 101.0 H64" stroke="#10c810" stroke-width="2" fill="none"/>
<text x="64.6" y="102.8">P10</text>
<path d="M0 116.0 H8" stroke="#c8c000" stroke-width="2" fill="none"/>
<text x="8.6" y="117.8">P11</text>
<path d="M53 116.0 H64" stroke="#c8a800" stroke-width="2" fill="none"/>
<text x="64.6" y="117.8">P12</text>
<path d="M0 131.0 H8" stroke="#c89800" stroke-width="2" fill="none"/>
<text x="8.6" y="132.8">P13</text>
<path d="M53 131.0 H64" stroke="#c88800" stroke-width="2" fill="none"/>
<text x="64.6" y="132.8">P14</text>
<path d="M0 146.0 H8" stroke="#c87810" stroke-width="2" fill="none"/>
<text x="8.6" y="147.8">P15</text>
<path d="M53 146.0 H64" stroke="#c07018" stroke-width="2" fill="none"/>
<text x="64.6" y="147.8">P16</text>
<path d="M0 161.0 H8" stroke="#c05810" stroke-width="2" fill="none"/>
<text x="8.6" y="162.8">P17</text>
<path d="M53 161.0 H64" stroke="#c04020" stroke-width="2" fill="none"/>
<text x="64.6" y="162.8">P18</text>
<path d="M0 176.0 H8" stroke="#b03020" stroke-width="2" fill="none"/>
<text x="8.6" y="177.8">P19</text>
<path d="M53 176.0 H64" stroke="#a02020" stroke-width="2" fill="none"/>
<text x="64.6" y="177.8">P20</text>
<path d="M0 191.0 H8" stroke="#0018d0" stroke-width="2" fill="none"/>
<text x="8.6" y="192.8">P21</text>
<path d="M53 191.0 H64" stroke="#0048d0" stroke-width="2" fill="none"/>
<text x="64.6" y="192.8">P22</text>
<path d="M0 206.0 H8" stroke="#0070c8" stroke-width="2" fill="none"/>
<text x="8.6" y="207.8">P23</text>
<path d="M53 206.0 H64" stroke="#0098c8" stroke-width="2" fill="none"/>
<text x="64.6" y="207.8">P24</text>
<path d="M0 221.0 H8" stroke="#00a8b8" stroke-width="2" fill="none"/>
<text x="8.6" y="222.8">P25</text>
<path d="M53 221.0 H64" stroke="#00a888" stroke-width="2" fill="none"/>
<text x="64.6" y="222.8">P26</text>
<path d="M0 236.0 H8" stroke="#00a860" stroke-width="2" fill="none"/>
<text x="8.6" y="237.8">P27</text>
<path d="M53 236.0 H64" stroke="#00b048" stroke-width="2" fill="none"/>
<text x="64.6" y="237.8">P28</text>
<path d="M0 251.0 H8" stroke="#00b820" stroke-width="2" fill="none"/>
<text x="8.6" y="252.8">P29</text>
<path d="M53 251.0 H64" stroke="#10c810" stroke-width="2" fill="none"/>
<text x="64.6" y="252.8">P30</text>
<path d="M0 266.8 H8" stroke="#0000ff" stroke-width="2" fill="none"/><text x="8.6" y="268.6">Control</text>
<path d="M53 266.8 H64" stroke="#fff" stroke-width="2" fill="none"/><text x="64.6" y="268.6">Ens. mean</text>
<path d="M0 306.8 H8" stroke="#00e000" stroke-width="2" fill="none"/><text x="8.6" y="309">Oper</text>
<path d="M53 293.2 H64" stroke="#f04848" stroke-width="2" fill="none"/><text x="64.6" y="297">1991-2020</text><text x="64.6" y="307">mean</text>
</g>
<text x="435" y="17" fill="#fff" font-family="'DejaVu Sans','Liberation Sans',sans-serif" font-weight="bold" font-size="16px" text-anchor="middle" xml:space="preserve" style="white-space:pre">San Benedetto del Tronto  (IT)  850 hPa Temp. &amp; Niederschlag | Sun, 09Feb2025 06Z</text>
<text x="120" y="604" fill="#e8e8e8" font-family="'DejaVu Sans','Liberation Sans',sans-serif" font-size="16px">GFS Ensemble, 43N, 14E</text>
<text x="794" y="604" fill="#e8e8e8" font-family="'DejaVu Sans','Liberation Sans',sans-serif" font-size="16px" text-anchor="end">Wetterzentrale.de</text>
</svg>
</body></html>
